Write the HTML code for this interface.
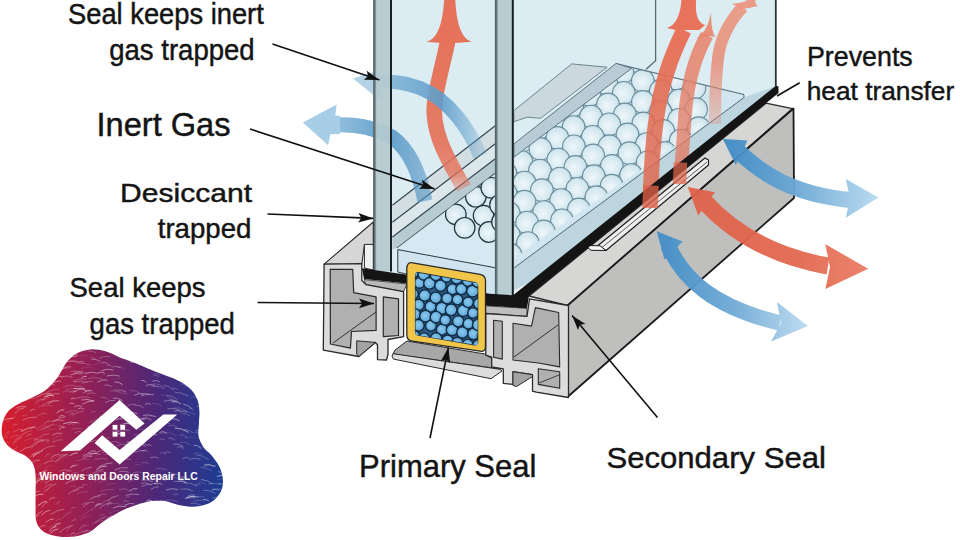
<!DOCTYPE html>
<html><head><meta charset="utf-8"><style>
html,body{margin:0;padding:0;background:#fff;}
svg{display:block;}
text{font-family:"Liberation Sans",sans-serif;}
</style></head><body>
<svg width="960" height="540" viewBox="0 0 960 540">
<rect width="960" height="540" fill="#ffffff"/>

<defs>
 <radialGradient id="ball" cx="0.45" cy="0.55" r="0.6">
  <stop offset="0" stop-color="#eef7fa"/><stop offset="0.75" stop-color="#d3e7ef"/><stop offset="1" stop-color="#bcd6e2"/>
 </radialGradient>
 <radialGradient id="sball" cx="0.45" cy="0.45" r="0.6">
  <stop offset="0" stop-color="#8ccaee"/><stop offset="1" stop-color="#58a2d6"/>
 </radialGradient>
 <linearGradient id="logoG" x1="0" y1="0" x2="1" y2="0">
  <stop offset="0" stop-color="#d81e2c"/><stop offset="0.4" stop-color="#8e2058"/><stop offset="0.7" stop-color="#4c2878"/><stop offset="1" stop-color="#1c3c94"/>
 </linearGradient>
 <clipPath id="trayclip"><polygon points="513.9,157 631.7,68 743.7,94.4 744,97.5 514.2,258"/></clipPath>
 <clipPath id="tray2clip"><polygon points="396.9,248.1 495.6,173 496,173 496,262 480,262"/></clipPath>
 <clipPath id="sealclip"><polygon points="415.5,272.5 477.7,283.2 477.7,345.3 415.5,334.7"/></clipPath>
</defs>
<polygon points="373.0,0.0 776.0,0.0 776.0,88.0 515.0,292.0 495.0,296.0 400.0,274.0 373.0,270.0" fill="#dbedf3" />
<polyline points="655.6,0 655.6,60.7 645.9,69.6" fill="none" stroke="#5d6b70" stroke-width="1.3"/>
<line x1="775.8" y1="0" x2="775.8" y2="88" stroke="#2a3236" stroke-width="1.8" />
<polygon points="513.9,157.0 631.7,68.0 743.7,94.4 744.0,97.5 514.2,267.8" fill="#d2e6ef" />
<g clip-path="url(#trayclip)"><circle cx="710.5" cy="57.1" r="11.3" fill="url(#ball)" stroke="#6a8d9b" stroke-width="1.1"/><circle cx="676.6" cy="59.1" r="11.3" fill="url(#ball)" stroke="#6a8d9b" stroke-width="1.1"/><circle cx="694.7" cy="68.3" r="11.3" fill="url(#ball)" stroke="#6a8d9b" stroke-width="1.1"/><circle cx="622.3" cy="50.9" r="11.3" fill="url(#ball)" stroke="#6a8d9b" stroke-width="1.1"/><circle cx="640.4" cy="62.1" r="11.3" fill="url(#ball)" stroke="#6a8d9b" stroke-width="1.1"/><circle cx="658.4" cy="69.6" r="11.3" fill="url(#ball)" stroke="#6a8d9b" stroke-width="1.1"/><circle cx="676.1" cy="78.3" r="11.3" fill="url(#ball)" stroke="#6a8d9b" stroke-width="1.1"/><circle cx="587.7" cy="55.0" r="11.3" fill="url(#ball)" stroke="#6a8d9b" stroke-width="1.1"/><circle cx="694.5" cy="87.8" r="11.3" fill="url(#ball)" stroke="#6a8d9b" stroke-width="1.1"/><circle cx="606.2" cy="63.7" r="11.3" fill="url(#ball)" stroke="#6a8d9b" stroke-width="1.1"/><circle cx="622.5" cy="72.4" r="11.3" fill="url(#ball)" stroke="#6a8d9b" stroke-width="1.1"/><circle cx="642.8" cy="80.9" r="11.3" fill="url(#ball)" stroke="#6a8d9b" stroke-width="1.1"/><circle cx="660.8" cy="90.9" r="11.3" fill="url(#ball)" stroke="#6a8d9b" stroke-width="1.1"/><circle cx="570.3" cy="66.8" r="11.3" fill="url(#ball)" stroke="#6a8d9b" stroke-width="1.1"/><circle cx="679.0" cy="100.5" r="11.3" fill="url(#ball)" stroke="#6a8d9b" stroke-width="1.1"/><circle cx="588.1" cy="74.7" r="11.3" fill="url(#ball)" stroke="#6a8d9b" stroke-width="1.1"/><circle cx="696.1" cy="109.2" r="11.3" fill="url(#ball)" stroke="#6a8d9b" stroke-width="1.1"/><circle cx="606.4" cy="83.5" r="11.3" fill="url(#ball)" stroke="#6a8d9b" stroke-width="1.1"/><circle cx="623.8" cy="92.8" r="11.3" fill="url(#ball)" stroke="#6a8d9b" stroke-width="1.1"/><circle cx="642.9" cy="101.9" r="11.3" fill="url(#ball)" stroke="#6a8d9b" stroke-width="1.1"/><circle cx="553.4" cy="76.1" r="11.3" fill="url(#ball)" stroke="#6a8d9b" stroke-width="1.1"/><circle cx="660.5" cy="112.0" r="11.3" fill="url(#ball)" stroke="#6a8d9b" stroke-width="1.1"/><circle cx="570.1" cy="85.4" r="11.3" fill="url(#ball)" stroke="#6a8d9b" stroke-width="1.1"/><circle cx="679.1" cy="119.8" r="11.3" fill="url(#ball)" stroke="#6a8d9b" stroke-width="1.1"/><circle cx="589.5" cy="94.9" r="11.3" fill="url(#ball)" stroke="#6a8d9b" stroke-width="1.1"/><circle cx="698.8" cy="128.2" r="11.3" fill="url(#ball)" stroke="#6a8d9b" stroke-width="1.1"/><circle cx="608.0" cy="104.4" r="11.3" fill="url(#ball)" stroke="#6a8d9b" stroke-width="1.1"/><circle cx="624.9" cy="114.4" r="11.3" fill="url(#ball)" stroke="#6a8d9b" stroke-width="1.1"/><circle cx="535.9" cy="87.9" r="11.3" fill="url(#ball)" stroke="#6a8d9b" stroke-width="1.1"/><circle cx="643.3" cy="123.4" r="11.3" fill="url(#ball)" stroke="#6a8d9b" stroke-width="1.1"/><circle cx="663.3" cy="130.9" r="11.3" fill="url(#ball)" stroke="#6a8d9b" stroke-width="1.1"/><circle cx="553.1" cy="98.7" r="11.3" fill="url(#ball)" stroke="#6a8d9b" stroke-width="1.1"/><circle cx="572.3" cy="105.7" r="11.3" fill="url(#ball)" stroke="#6a8d9b" stroke-width="1.1"/><circle cx="680.8" cy="140.5" r="11.3" fill="url(#ball)" stroke="#6a8d9b" stroke-width="1.1"/><circle cx="591.0" cy="116.5" r="11.3" fill="url(#ball)" stroke="#6a8d9b" stroke-width="1.1"/><circle cx="699.9" cy="149.2" r="11.3" fill="url(#ball)" stroke="#6a8d9b" stroke-width="1.1"/><circle cx="609.3" cy="124.3" r="11.3" fill="url(#ball)" stroke="#6a8d9b" stroke-width="1.1"/><circle cx="518.4" cy="99.7" r="11.3" fill="url(#ball)" stroke="#6a8d9b" stroke-width="1.1"/><circle cx="627.5" cy="134.4" r="11.3" fill="url(#ball)" stroke="#6a8d9b" stroke-width="1.1"/><circle cx="536.0" cy="108.2" r="11.3" fill="url(#ball)" stroke="#6a8d9b" stroke-width="1.1"/><circle cx="646.8" cy="144.0" r="11.3" fill="url(#ball)" stroke="#6a8d9b" stroke-width="1.1"/><circle cx="554.7" cy="118.9" r="11.3" fill="url(#ball)" stroke="#6a8d9b" stroke-width="1.1"/><circle cx="665.2" cy="153.1" r="11.3" fill="url(#ball)" stroke="#6a8d9b" stroke-width="1.1"/><circle cx="573.6" cy="127.0" r="11.3" fill="url(#ball)" stroke="#6a8d9b" stroke-width="1.1"/><circle cx="682.5" cy="161.4" r="11.3" fill="url(#ball)" stroke="#6a8d9b" stroke-width="1.1"/><circle cx="592.8" cy="136.8" r="11.3" fill="url(#ball)" stroke="#6a8d9b" stroke-width="1.1"/><circle cx="502.0" cy="110.3" r="11.3" fill="url(#ball)" stroke="#6a8d9b" stroke-width="1.1"/><circle cx="700.9" cy="170.1" r="11.3" fill="url(#ball)" stroke="#6a8d9b" stroke-width="1.1"/><circle cx="609.6" cy="146.2" r="11.3" fill="url(#ball)" stroke="#6a8d9b" stroke-width="1.1"/><circle cx="519.8" cy="119.5" r="11.3" fill="url(#ball)" stroke="#6a8d9b" stroke-width="1.1"/><circle cx="629.4" cy="153.2" r="11.3" fill="url(#ball)" stroke="#6a8d9b" stroke-width="1.1"/><circle cx="538.7" cy="128.1" r="11.3" fill="url(#ball)" stroke="#6a8d9b" stroke-width="1.1"/><circle cx="647.6" cy="162.3" r="11.3" fill="url(#ball)" stroke="#6a8d9b" stroke-width="1.1"/><circle cx="557.4" cy="137.9" r="11.3" fill="url(#ball)" stroke="#6a8d9b" stroke-width="1.1"/><circle cx="666.0" cy="172.5" r="11.3" fill="url(#ball)" stroke="#6a8d9b" stroke-width="1.1"/><circle cx="573.9" cy="146.3" r="11.3" fill="url(#ball)" stroke="#6a8d9b" stroke-width="1.1"/><circle cx="682.7" cy="181.9" r="11.3" fill="url(#ball)" stroke="#6a8d9b" stroke-width="1.1"/><circle cx="593.2" cy="155.4" r="11.3" fill="url(#ball)" stroke="#6a8d9b" stroke-width="1.1"/><circle cx="701.1" cy="189.6" r="11.3" fill="url(#ball)" stroke="#6a8d9b" stroke-width="1.1"/><circle cx="503.4" cy="130.5" r="11.3" fill="url(#ball)" stroke="#6a8d9b" stroke-width="1.1"/><circle cx="611.9" cy="165.9" r="11.3" fill="url(#ball)" stroke="#6a8d9b" stroke-width="1.1"/><circle cx="522.1" cy="140.7" r="11.3" fill="url(#ball)" stroke="#6a8d9b" stroke-width="1.1"/><circle cx="631.1" cy="175.0" r="11.3" fill="url(#ball)" stroke="#6a8d9b" stroke-width="1.1"/><circle cx="540.4" cy="148.9" r="11.3" fill="url(#ball)" stroke="#6a8d9b" stroke-width="1.1"/><circle cx="648.0" cy="184.8" r="11.3" fill="url(#ball)" stroke="#6a8d9b" stroke-width="1.1"/><circle cx="558.3" cy="159.6" r="11.3" fill="url(#ball)" stroke="#6a8d9b" stroke-width="1.1"/><circle cx="666.9" cy="192.7" r="11.3" fill="url(#ball)" stroke="#6a8d9b" stroke-width="1.1"/><circle cx="575.4" cy="166.9" r="11.3" fill="url(#ball)" stroke="#6a8d9b" stroke-width="1.1"/><circle cx="685.2" cy="200.9" r="11.3" fill="url(#ball)" stroke="#6a8d9b" stroke-width="1.1"/><circle cx="593.8" cy="176.2" r="11.3" fill="url(#ball)" stroke="#6a8d9b" stroke-width="1.1"/><circle cx="503.9" cy="150.9" r="11.3" fill="url(#ball)" stroke="#6a8d9b" stroke-width="1.1"/><circle cx="702.5" cy="212.0" r="11.3" fill="url(#ball)" stroke="#6a8d9b" stroke-width="1.1"/><circle cx="611.7" cy="185.7" r="11.3" fill="url(#ball)" stroke="#6a8d9b" stroke-width="1.1"/><circle cx="521.6" cy="162.0" r="11.3" fill="url(#ball)" stroke="#6a8d9b" stroke-width="1.1"/><circle cx="632.4" cy="195.3" r="11.3" fill="url(#ball)" stroke="#6a8d9b" stroke-width="1.1"/><circle cx="539.9" cy="170.5" r="11.3" fill="url(#ball)" stroke="#6a8d9b" stroke-width="1.1"/><circle cx="648.8" cy="204.9" r="11.3" fill="url(#ball)" stroke="#6a8d9b" stroke-width="1.1"/><circle cx="559.9" cy="178.6" r="11.3" fill="url(#ball)" stroke="#6a8d9b" stroke-width="1.1"/><circle cx="667.9" cy="212.8" r="11.3" fill="url(#ball)" stroke="#6a8d9b" stroke-width="1.1"/><circle cx="686.7" cy="221.5" r="11.3" fill="url(#ball)" stroke="#6a8d9b" stroke-width="1.1"/><circle cx="577.4" cy="188.8" r="11.3" fill="url(#ball)" stroke="#6a8d9b" stroke-width="1.1"/><circle cx="596.4" cy="197.2" r="11.3" fill="url(#ball)" stroke="#6a8d9b" stroke-width="1.1"/><circle cx="704.6" cy="231.2" r="11.3" fill="url(#ball)" stroke="#6a8d9b" stroke-width="1.1"/><circle cx="505.4" cy="173.1" r="11.3" fill="url(#ball)" stroke="#6a8d9b" stroke-width="1.1"/><circle cx="613.8" cy="206.5" r="11.3" fill="url(#ball)" stroke="#6a8d9b" stroke-width="1.1"/><circle cx="524.5" cy="182.5" r="11.3" fill="url(#ball)" stroke="#6a8d9b" stroke-width="1.1"/><circle cx="632.7" cy="215.6" r="11.3" fill="url(#ball)" stroke="#6a8d9b" stroke-width="1.1"/><circle cx="541.9" cy="190.2" r="11.3" fill="url(#ball)" stroke="#6a8d9b" stroke-width="1.1"/><circle cx="650.3" cy="223.6" r="11.3" fill="url(#ball)" stroke="#6a8d9b" stroke-width="1.1"/><circle cx="561.2" cy="200.0" r="11.3" fill="url(#ball)" stroke="#6a8d9b" stroke-width="1.1"/><circle cx="669.2" cy="234.2" r="11.3" fill="url(#ball)" stroke="#6a8d9b" stroke-width="1.1"/><circle cx="578.8" cy="209.4" r="11.3" fill="url(#ball)" stroke="#6a8d9b" stroke-width="1.1"/><circle cx="687.1" cy="242.7" r="11.3" fill="url(#ball)" stroke="#6a8d9b" stroke-width="1.1"/><circle cx="596.4" cy="217.8" r="11.3" fill="url(#ball)" stroke="#6a8d9b" stroke-width="1.1"/><circle cx="706.7" cy="253.0" r="11.3" fill="url(#ball)" stroke="#6a8d9b" stroke-width="1.1"/><circle cx="505.6" cy="192.8" r="11.3" fill="url(#ball)" stroke="#6a8d9b" stroke-width="1.1"/><circle cx="616.0" cy="226.0" r="11.3" fill="url(#ball)" stroke="#6a8d9b" stroke-width="1.1"/><circle cx="524.5" cy="201.7" r="11.3" fill="url(#ball)" stroke="#6a8d9b" stroke-width="1.1"/><circle cx="633.3" cy="237.1" r="11.3" fill="url(#ball)" stroke="#6a8d9b" stroke-width="1.1"/><circle cx="651.8" cy="244.0" r="11.3" fill="url(#ball)" stroke="#6a8d9b" stroke-width="1.1"/><circle cx="544.1" cy="212.1" r="11.3" fill="url(#ball)" stroke="#6a8d9b" stroke-width="1.1"/><circle cx="562.0" cy="220.3" r="11.3" fill="url(#ball)" stroke="#6a8d9b" stroke-width="1.1"/><circle cx="670.7" cy="253.4" r="11.3" fill="url(#ball)" stroke="#6a8d9b" stroke-width="1.1"/><circle cx="581.2" cy="228.4" r="11.3" fill="url(#ball)" stroke="#6a8d9b" stroke-width="1.1"/><circle cx="687.9" cy="262.3" r="11.3" fill="url(#ball)" stroke="#6a8d9b" stroke-width="1.1"/><circle cx="598.9" cy="239.2" r="11.3" fill="url(#ball)" stroke="#6a8d9b" stroke-width="1.1"/><circle cx="508.7" cy="213.0" r="11.3" fill="url(#ball)" stroke="#6a8d9b" stroke-width="1.1"/><circle cx="707.0" cy="272.5" r="11.3" fill="url(#ball)" stroke="#6a8d9b" stroke-width="1.1"/><circle cx="617.5" cy="247.2" r="11.3" fill="url(#ball)" stroke="#6a8d9b" stroke-width="1.1"/><circle cx="527.1" cy="222.6" r="11.3" fill="url(#ball)" stroke="#6a8d9b" stroke-width="1.1"/><circle cx="634.9" cy="255.6" r="11.3" fill="url(#ball)" stroke="#6a8d9b" stroke-width="1.1"/><circle cx="543.7" cy="231.4" r="11.3" fill="url(#ball)" stroke="#6a8d9b" stroke-width="1.1"/><circle cx="653.1" cy="266.2" r="11.3" fill="url(#ball)" stroke="#6a8d9b" stroke-width="1.1"/><circle cx="671.2" cy="273.6" r="11.3" fill="url(#ball)" stroke="#6a8d9b" stroke-width="1.1"/><circle cx="562.3" cy="241.0" r="11.3" fill="url(#ball)" stroke="#6a8d9b" stroke-width="1.1"/><circle cx="581.8" cy="250.7" r="11.3" fill="url(#ball)" stroke="#6a8d9b" stroke-width="1.1"/><circle cx="600.0" cy="257.7" r="11.3" fill="url(#ball)" stroke="#6a8d9b" stroke-width="1.1"/><circle cx="508.8" cy="234.8" r="11.3" fill="url(#ball)" stroke="#6a8d9b" stroke-width="1.1"/><circle cx="618.6" cy="268.6" r="11.3" fill="url(#ball)" stroke="#6a8d9b" stroke-width="1.1"/><circle cx="527.9" cy="243.0" r="11.3" fill="url(#ball)" stroke="#6a8d9b" stroke-width="1.1"/><circle cx="635.4" cy="276.3" r="11.3" fill="url(#ball)" stroke="#6a8d9b" stroke-width="1.1"/><circle cx="545.4" cy="252.0" r="11.3" fill="url(#ball)" stroke="#6a8d9b" stroke-width="1.1"/><circle cx="564.4" cy="260.3" r="11.3" fill="url(#ball)" stroke="#6a8d9b" stroke-width="1.1"/><circle cx="581.6" cy="269.5" r="11.3" fill="url(#ball)" stroke="#6a8d9b" stroke-width="1.1"/><circle cx="601.1" cy="279.1" r="11.3" fill="url(#ball)" stroke="#6a8d9b" stroke-width="1.1"/><circle cx="510.6" cy="255.0" r="11.3" fill="url(#ball)" stroke="#6a8d9b" stroke-width="1.1"/><circle cx="528.4" cy="263.9" r="11.3" fill="url(#ball)" stroke="#6a8d9b" stroke-width="1.1"/><circle cx="548.4" cy="273.5" r="11.3" fill="url(#ball)" stroke="#6a8d9b" stroke-width="1.1"/><circle cx="513.0" cy="275.9" r="11.3" fill="url(#ball)" stroke="#6a8d9b" stroke-width="1.1"/></g>
<polyline points="616,63.6 743.7,94.4 745.5,106" fill="none" stroke="#5b7783" stroke-width="1.1"/>
<polygon points="513.9,110.6 571.7,63.9 607.2,67.2 540.6,118.3 527.2,117.2 513.9,121.7" fill="#cbd9de" stroke="#6d8590" stroke-width="1" stroke-linejoin="round" />
<polygon points="513.9,143.9 616.1,63.4 631.7,68.3 513.9,157.2" fill="#b7ccd4" stroke="#5d7682" stroke-width="1" stroke-linejoin="round" />
<polygon points="514.2,267.8 744.0,97.5 776.0,86.0 776.0,94.0 531.5,282.0 513.5,290.0" fill="#bcd5de" />
<line x1="514.2" y1="267.8" x2="744" y2="97.5" stroke="#4c6b78" stroke-width="1" />
<polygon points="392.4,205.2 495.6,125.5 495.6,173.0 396.9,248.1 392.4,250.0" fill="#d3dee2" />
<polygon points="392.4,222.2 495.6,143.5 495.6,158.5 392.4,237.0" fill="#dce7eb" />
<polygon points="392.4,237.0 495.6,158.5 495.6,173.0 396.9,248.1 392.4,249.0" fill="#b7cbd3" />
<line x1="392.4" y1="205.2" x2="495.6" y2="125.5" stroke="#33444c" stroke-width="1.1" />
<line x1="392.4" y1="222.2" x2="495.6" y2="143.5" stroke="#33444c" stroke-width="1.1" />
<line x1="392.4" y1="237" x2="495.6" y2="158.5" stroke="#33444c" stroke-width="1.1" />
<line x1="396.9" y1="248.1" x2="495.6" y2="173" stroke="#33444c" stroke-width="1.1" />
<polygon points="396.9,248.6 495.6,173.5 495.6,266.0 397.8,249.6" fill="#d5e9f3" />
<g clip-path="url(#tray2clip)"><circle cx="455.8" cy="214.4" r="10.3" fill="url(#ball)" stroke="#23343c" stroke-width="1.2"/><circle cx="464.7" cy="227.8" r="10.3" fill="url(#ball)" stroke="#23343c" stroke-width="1.2"/><circle cx="475.8" cy="196.7" r="10.3" fill="url(#ball)" stroke="#23343c" stroke-width="1.2"/><circle cx="483.6" cy="215.6" r="10.3" fill="url(#ball)" stroke="#23343c" stroke-width="1.2"/><circle cx="489" cy="232" r="10.3" fill="url(#ball)" stroke="#23343c" stroke-width="1.2"/><circle cx="491.3" cy="187.8" r="10.3" fill="url(#ball)" stroke="#23343c" stroke-width="1.2"/><circle cx="500" cy="205" r="10.3" fill="url(#ball)" stroke="#23343c" stroke-width="1.2"/><circle cx="502" cy="222" r="10.3" fill="url(#ball)" stroke="#23343c" stroke-width="1.2"/></g>
<polygon points="397.8,249.6 495.6,267.8 495.6,296.0 397.8,272.0" fill="#cfe4ef" stroke="#2a3a40" stroke-width="1" stroke-linejoin="round" />
<defs><linearGradient id="r1g" gradientUnits="userSpaceOnUse" x1="0" y1="190" x2="0" y2="40"><stop offset="0" stop-color="#e5735a" stop-opacity="0.35"/><stop offset="0.12" stop-color="#e5735a" stop-opacity="0.8"/><stop offset="0.3" stop-color="#e5735a" stop-opacity="0.92"/><stop offset="1" stop-color="#e5735a" stop-opacity="1"/></linearGradient><linearGradient id="r2g" gradientUnits="userSpaceOnUse" x1="0" y1="212" x2="0" y2="20"><stop offset="0" stop-color="#e0644a" stop-opacity="0.5"/><stop offset="0.12" stop-color="#e0644a" stop-opacity="0.8"/><stop offset="0.4" stop-color="#e26a50" stop-opacity="0.85"/><stop offset="1" stop-color="#e8735a" stop-opacity="1"/></linearGradient><linearGradient id="r3g" gradientUnits="userSpaceOnUse" x1="0" y1="198" x2="0" y2="20"><stop offset="0" stop-color="#e2694f" stop-opacity="0.5"/><stop offset="0.15" stop-color="#e4735a" stop-opacity="0.75"/><stop offset="0.4" stop-color="#e57a62" stop-opacity="0.75"/><stop offset="1" stop-color="#e8866e" stop-opacity="0.9"/></linearGradient><linearGradient id="r4g" gradientUnits="userSpaceOnUse" x1="0" y1="125" x2="0" y2="0"><stop offset="0" stop-color="#e8866e" stop-opacity="0.3"/><stop offset="0.5" stop-color="#e8866e" stop-opacity="0.8"/><stop offset="1" stop-color="#eb9580" stop-opacity="0.9"/></linearGradient></defs>
<path d="M464,188 C448,160 430,130 435,100 C438,80 444,60 448,40" fill="none" stroke="url(#r1g)" stroke-width="15.5" stroke-opacity="1.0" stroke-linecap="butt" />
<path d="M426.7,41.7 Q442,38 444.2,-1 L455.2,-1 Q457,38 471.7,41.7 L458.9,42.8 L437.8,42.8 Z" fill="#e5735a"/>
<path d="M715,124 C715,100 716,70 719,52 C722,35 732,18 743,7" fill="none" stroke="url(#r4g)" stroke-width="12" stroke-opacity="1.0" stroke-linecap="butt" />
<path d="M731.9,3.7 Q745,3 748,-1 L756,-1 Q754,4 757.8,5.9 L749,8 L741,9 Z" fill="#eb9580" opacity="0.92"/>
<path d="M679.5,186 C682,160 684,130 685,115 C687,90 693,60 707,35" fill="none" stroke="url(#r3g)" stroke-width="13.5" stroke-opacity="1.0" stroke-linecap="butt" />
<path d="M696.3,38.5 Q707,33 711.1,12.6 Q711,32 715.6,37 L710,36 L703,37 Z" fill="#e8866e" opacity="0.92"/>
<path d="M650,212 C651,170 653,140 656.5,118 C660,92 668,62 684,30" fill="none" stroke="url(#r2g)" stroke-width="15.5" stroke-opacity="1.0" stroke-linecap="butt" />
<path d="M666.7,28.1 Q680,24 681.5,-1 L696.3,-1 Q694,22 705.2,25.2 L699,30 L675.6,30 Z" fill="#e8735a"/>
<defs><linearGradient id="b1g" gradientUnits="userSpaceOnUse" x1="480" y1="0" x2="350" y2="0"><stop offset="0" stop-color="#5d9cc9" stop-opacity="0.3"/><stop offset="0.3" stop-color="#5d9cc9" stop-opacity="0.9"/><stop offset="1" stop-color="#9cc6e2" stop-opacity="0.9"/></linearGradient><linearGradient id="b2g" gradientUnits="userSpaceOnUse" x1="435" y1="0" x2="300" y2="0"><stop offset="0" stop-color="#4f92c4" stop-opacity="0.5"/><stop offset="0.35" stop-color="#5d9cc9" stop-opacity="0.95"/><stop offset="1" stop-color="#a8cde6" stop-opacity="0.9"/></linearGradient></defs>
<path d="M480,156 C470,130 450,100 420,88 C405,83 395,81 380,82" fill="none" stroke="url(#b1g)" stroke-width="14" stroke-opacity="1.0" stroke-linecap="butt" />
<path d="M353,78.5 L381,69.5 L381,101 Q366,89 353,78.5 Z" fill="#a6cae2" fill-opacity="0.85"/>
<path d="M425,201 C420,175 410,150 392,137 C372,126 350,124 333,125" fill="none" stroke="url(#b2g)" stroke-width="15" stroke-opacity="1.0" stroke-linecap="butt" />
<polygon points="302.9,122.5 336.7,104.4 335.2,115.4 340.0,116.0 340.0,134.0 330.4,134.3 328.1,145.3" fill="#a8cde6" />
<defs><linearGradient id="paneEdge" x1="0" y1="0" x2="1" y2="0"><stop offset="0" stop-color="#4a585d"/><stop offset="0.5" stop-color="#66767b"/><stop offset="1" stop-color="#a7bbc1"/></linearGradient></defs>
<rect x="373.2" y="-2" width="18.80000000000001" height="273.5" fill="#b4cacf" fill-opacity="0.93"/><rect x="373.2" y="-2" width="3.2" height="273.5" fill="url(#paneEdge)"/><line x1="391" y1="-2" x2="391" y2="271.5" stroke="#182226" stroke-width="2" />
<rect x="494.9" y="-2" width="18.899999999999977" height="298.7" fill="#b4cacf" fill-opacity="0.93"/><rect x="494.9" y="-2" width="3.2" height="298.7" fill="url(#paneEdge)"/><line x1="512.8" y1="-2" x2="512.8" y2="296.7" stroke="#182226" stroke-width="2" />
<polygon points="324.1,264.2 373.3,222.0 373.3,245.0 364.4,245.0 361.8,264.2" fill="#d6d6d6" stroke="#2a2a2a" stroke-width="1.1" stroke-linejoin="round" />
<polygon points="364.4,244.4 373.3,244.4 373.3,270.0 364.4,268.0" fill="#eef1f1" stroke="#2a2a2a" stroke-width="1" stroke-linejoin="round" />
<polygon points="529.0,296.0 766.0,103.2 792.5,108.6 567.5,305.5" fill="#d6d6d5" stroke="#2a2a2a" stroke-width="1.3" stroke-linejoin="round" />
<polygon points="567.5,305.5 793.5,108.5 794.0,198.0 567.5,397.0" fill="#bfbfbd" stroke="#1a1a1a" stroke-width="1.8" stroke-linejoin="round" />
<polygon points="598.0,245.5 705.0,158.0 708.5,160.0 708.5,165.0 606.0,250.5" fill="#efefef" stroke="#1a1a1a" stroke-width="1.1" stroke-linejoin="round" />
<line x1="601" y1="248.3" x2="707" y2="162" stroke="#333" stroke-width="0.8" />
<polygon points="586.0,245.5 600.0,245.8 606.0,250.5 591.0,250.3" fill="#f6f6f6" stroke="#1a1a1a" stroke-width="1" stroke-linejoin="round" />
<polygon points="362.0,268.3 407.0,274.8 407.0,283.5 364.0,279.0" fill="#141414" />
<polygon points="485.6,293.5 513.0,295.3 776.0,85.7 778.5,86.5 778.5,93.0 529.0,295.8 527.0,308.4 485.6,305.8" fill="#141414" />
<polygon points="364.0,279.5 407.0,284.0 403.6,291.7 365.9,284.6" fill="#b8b8b8" stroke="#2a2a2a" stroke-width="0.8" stroke-linejoin="round" />
<polygon points="485.6,305.8 527.0,308.4 527.0,316.4 485.8,313.5" fill="#bdbdbd" stroke="#2a2a2a" stroke-width="0.8" stroke-linejoin="round" />
<path d="M650,208 L651,185.5" fill="none" stroke="#df6048" stroke-width="15.5" stroke-opacity="0.78"/>
<path d="M679.5,184 L680.5,162.5" fill="none" stroke="#e0664c" stroke-width="13.5" stroke-opacity="0.72"/>
<polygon points="395.0,350.0 407.0,341.0 485.0,354.0 494.0,360.0 500.0,369.0 393.0,354.0" fill="#a7a7a7" stroke="#2a2a2a" stroke-width="1" stroke-linejoin="round" />
<polygon points="393.0,353.7 500.0,369.3 502.0,371.0 491.0,378.7 393.5,359.1 392.0,356.0" fill="#dcdcdc" stroke="#2a2a2a" stroke-width="1" stroke-linejoin="round" />
<polygon points="324.1,264.2 361.8,263.6 361.8,280.5 365.9,284.6 403.6,291.7 403.6,336.6 388.0,339.5 388.0,354.5 386.5,360.0 377.5,359.6 377.5,345.0 375.4,342.4 358.8,356.5 323.3,350.2" fill="#dcdcdc" stroke="#2a2a2a" stroke-width="1.3" stroke-linejoin="round" />
<polygon points="330.2,269.3 352.7,269.3 353.7,292.7 376.1,296.8 376.1,330.4 351.5,331.5 350.4,348.1 330.4,344.0" fill="#b0b0b0" stroke="#2a2a2a" stroke-width="1.2" stroke-linejoin="round" />
<line x1="333" y1="343" x2="376" y2="312" stroke="#333" stroke-width="1" />
<polygon points="383.3,296.8 398.5,298.8 398.5,335.5 383.3,336.6" fill="#b0b0b0" stroke="#2a2a2a" stroke-width="1.2" stroke-linejoin="round" />
<polygon points="356.7,340.8 375.4,342.4 358.8,356.5 356.7,354.0" fill="#a2a2a2" stroke="#2a2a2a" stroke-width="1" stroke-linejoin="round" />
<polygon points="485.8,313.5 527.0,316.4 529.5,298.9 568.5,305.5 568.5,397.5 536.3,392.1 532.5,391.2 532.5,374.7 513.0,371.7 513.0,384.4 503.3,383.4 503.3,368.8 491.7,366.9 491.7,357.2 485.8,355.2" fill="#dcdcdc" stroke="#2a2a2a" stroke-width="1.3" stroke-linejoin="round" />
<polygon points="513.0,371.7 532.5,374.7 532.5,376.5 516.5,386.5 513.0,385.5" fill="#a4a4a4" stroke="#2a2a2a" stroke-width="1" stroke-linejoin="round" />
<polygon points="493.6,320.3 502.3,321.2 502.3,359.1 493.6,357.2" fill="#b0b0b0" stroke="#2a2a2a" stroke-width="1.1" stroke-linejoin="round" />
<polygon points="513.0,323.2 531.5,326.1 535.4,307.6 558.7,312.5 559.7,366.9 538.3,363.0 513.0,360.0" fill="#b0b0b0" stroke="#2a2a2a" stroke-width="1.1" stroke-linejoin="round" />
<line x1="514" y1="357" x2="558" y2="325" stroke="#333" stroke-width="1" />
<polygon points="538.3,368.8 559.7,371.7 559.7,388.3 538.3,384.4" fill="#b0b0b0" stroke="#2a2a2a" stroke-width="1.1" stroke-linejoin="round" />
<line x1="539" y1="383" x2="559" y2="375" stroke="#333" stroke-width="0.9" />
<path d="M412.5,262.8 L480,274.4 Q485.5,275.4 485.5,281 L485.5,346.5 Q485.5,352.1 480,351.2 L412.5,341.2 Q406.8,340.5 406.8,334.8 L406.8,268.6 Q406.8,262 412.5,262.8 Z" fill="#f0c64a" stroke="#2a2a2a" stroke-width="1.3"/>
<path d="M418.5,272.5 L474.7,282.6 Q477.7,283.2 477.7,286.5 L477.7,342 Q477.7,345.3 474.7,344.8 L418.5,335.2 Q415.5,334.7 415.5,331.5 L415.5,275.7 Q415.5,272 418.5,272.5 Z" fill="#2b5a82" stroke="#1e2e3a" stroke-width="1.2"/>
<g clip-path="url(#sealclip)"><circle cx="413.4" cy="272.1" r="5.5" fill="url(#sball)" stroke="#132c44" stroke-width="1.4"/><circle cx="419.4" cy="282.9" r="5.3" fill="url(#sball)" stroke="#132c44" stroke-width="1.4"/><circle cx="412.8" cy="294.0" r="5.5" fill="url(#sball)" stroke="#132c44" stroke-width="1.4"/><circle cx="418.6" cy="305.0" r="5.6" fill="url(#sball)" stroke="#132c44" stroke-width="1.4"/><circle cx="414.8" cy="314.3" r="5.7" fill="url(#sball)" stroke="#132c44" stroke-width="1.4"/><circle cx="418.4" cy="325.3" r="5.8" fill="url(#sball)" stroke="#132c44" stroke-width="1.4"/><circle cx="414.1" cy="336.2" r="5.7" fill="url(#sball)" stroke="#132c44" stroke-width="1.4"/><circle cx="423.8" cy="274.4" r="5.7" fill="url(#sball)" stroke="#132c44" stroke-width="1.4"/><circle cx="429.5" cy="283.3" r="5.8" fill="url(#sball)" stroke="#132c44" stroke-width="1.4"/><circle cx="424.7" cy="295.5" r="5.8" fill="url(#sball)" stroke="#132c44" stroke-width="1.4"/><circle cx="430.5" cy="306.6" r="5.5" fill="url(#sball)" stroke="#132c44" stroke-width="1.4"/><circle cx="425.5" cy="316.1" r="5.9" fill="url(#sball)" stroke="#132c44" stroke-width="1.4"/><circle cx="430.9" cy="325.8" r="5.4" fill="url(#sball)" stroke="#132c44" stroke-width="1.4"/><circle cx="424.1" cy="338.5" r="5.6" fill="url(#sball)" stroke="#132c44" stroke-width="1.4"/><circle cx="435.9" cy="275.1" r="5.6" fill="url(#sball)" stroke="#132c44" stroke-width="1.4"/><circle cx="440.5" cy="285.8" r="5.7" fill="url(#sball)" stroke="#132c44" stroke-width="1.4"/><circle cx="435.8" cy="297.8" r="5.7" fill="url(#sball)" stroke="#132c44" stroke-width="1.4"/><circle cx="441.8" cy="308.3" r="5.9" fill="url(#sball)" stroke="#132c44" stroke-width="1.4"/><circle cx="436.0" cy="317.2" r="5.8" fill="url(#sball)" stroke="#132c44" stroke-width="1.4"/><circle cx="441.9" cy="329.6" r="5.6" fill="url(#sball)" stroke="#132c44" stroke-width="1.4"/><circle cx="436.1" cy="338.5" r="5.8" fill="url(#sball)" stroke="#132c44" stroke-width="1.4"/><circle cx="446.6" cy="276.9" r="5.3" fill="url(#sball)" stroke="#132c44" stroke-width="1.4"/><circle cx="452.4" cy="289.2" r="5.4" fill="url(#sball)" stroke="#132c44" stroke-width="1.4"/><circle cx="447.1" cy="298.4" r="5.4" fill="url(#sball)" stroke="#132c44" stroke-width="1.4"/><circle cx="451.1" cy="309.8" r="5.8" fill="url(#sball)" stroke="#132c44" stroke-width="1.4"/><circle cx="445.3" cy="320.1" r="5.3" fill="url(#sball)" stroke="#132c44" stroke-width="1.4"/><circle cx="452.1" cy="330.0" r="5.8" fill="url(#sball)" stroke="#132c44" stroke-width="1.4"/><circle cx="447.6" cy="341.0" r="5.9" fill="url(#sball)" stroke="#132c44" stroke-width="1.4"/><circle cx="456.7" cy="278.2" r="5.7" fill="url(#sball)" stroke="#132c44" stroke-width="1.4"/><circle cx="461.3" cy="289.1" r="5.5" fill="url(#sball)" stroke="#132c44" stroke-width="1.4"/><circle cx="457.5" cy="299.6" r="5.3" fill="url(#sball)" stroke="#132c44" stroke-width="1.4"/><circle cx="463.3" cy="310.6" r="5.9" fill="url(#sball)" stroke="#132c44" stroke-width="1.4"/><circle cx="458.2" cy="321.3" r="5.6" fill="url(#sball)" stroke="#132c44" stroke-width="1.4"/><circle cx="462.4" cy="332.5" r="5.7" fill="url(#sball)" stroke="#132c44" stroke-width="1.4"/><circle cx="457.3" cy="343.1" r="5.9" fill="url(#sball)" stroke="#132c44" stroke-width="1.4"/><circle cx="468.0" cy="280.8" r="5.7" fill="url(#sball)" stroke="#132c44" stroke-width="1.4"/><circle cx="472.6" cy="291.1" r="5.9" fill="url(#sball)" stroke="#132c44" stroke-width="1.4"/><circle cx="468.1" cy="302.3" r="5.3" fill="url(#sball)" stroke="#132c44" stroke-width="1.4"/><circle cx="473.0" cy="313.0" r="5.3" fill="url(#sball)" stroke="#132c44" stroke-width="1.4"/><circle cx="468.3" cy="323.7" r="5.3" fill="url(#sball)" stroke="#132c44" stroke-width="1.4"/><circle cx="473.5" cy="333.9" r="5.7" fill="url(#sball)" stroke="#132c44" stroke-width="1.4"/><circle cx="467.6" cy="345.1" r="5.7" fill="url(#sball)" stroke="#132c44" stroke-width="1.4"/><circle cx="477.7" cy="281.7" r="5.7" fill="url(#sball)" stroke="#132c44" stroke-width="1.4"/><circle cx="485.1" cy="292.8" r="5.6" fill="url(#sball)" stroke="#132c44" stroke-width="1.4"/><circle cx="479.0" cy="303.6" r="5.5" fill="url(#sball)" stroke="#132c44" stroke-width="1.4"/><circle cx="483.6" cy="314.3" r="5.7" fill="url(#sball)" stroke="#132c44" stroke-width="1.4"/><circle cx="478.3" cy="324.9" r="5.8" fill="url(#sball)" stroke="#132c44" stroke-width="1.4"/><circle cx="482.9" cy="336.0" r="5.7" fill="url(#sball)" stroke="#132c44" stroke-width="1.4"/><circle cx="478.3" cy="345.7" r="5.8" fill="url(#sball)" stroke="#132c44" stroke-width="1.4"/></g>
<defs><linearGradient id="bug" gradientUnits="userSpaceOnUse" x1="725" y1="0" x2="880" y2="0"><stop offset="0" stop-color="#3f8cc6"/><stop offset="0.45" stop-color="#6aa7d4"/><stop offset="1" stop-color="#b9dbf0"/></linearGradient><linearGradient id="rmg" gradientUnits="userSpaceOnUse" x1="688" y1="0" x2="870" y2="0"><stop offset="0" stop-color="#e0624a"/><stop offset="0.6" stop-color="#e3684f"/><stop offset="1" stop-color="#ea7d66"/></linearGradient><linearGradient id="blg" gradientUnits="userSpaceOnUse" x1="655" y1="0" x2="810" y2="0"><stop offset="0" stop-color="#3f8cc6"/><stop offset="0.5" stop-color="#6ea9d5"/><stop offset="1" stop-color="#bedcf0"/></linearGradient></defs>
<g opacity="0.95">
<path d="M738,151 C760,172 790,194 850,200" fill="none" stroke="url(#bug)" stroke-width="16" stroke-opacity="1.0" stroke-linecap="butt" />
<polygon points="722.8,139.1 747.5,140.4 735.8,165.0" fill="url(#bug)" />
<polygon points="878.4,197.4 845.8,179.0 850.0,198.5 845.8,217.8" fill="url(#bug)" />
<path d="M703,200 C730,230 770,256 828,266" fill="none" stroke="url(#rmg)" stroke-width="17" stroke-opacity="1.0" stroke-linecap="butt" />
<polygon points="687.8,187.1 715.0,192.3 698.2,215.6" fill="url(#rmg)" />
<polygon points="868.2,268.7 825.4,244.3 830.0,267.0 825.4,289.0" fill="url(#rmg)" />
<path d="M668,245 C683,279 713,307 780,323" fill="none" stroke="url(#blg)" stroke-width="15.5" stroke-opacity="1.0" stroke-linecap="butt" />
<polygon points="656.7,231.2 682.6,241.6 664.5,259.7" fill="url(#blg)" />
<polygon points="808.0,326.0 777.0,302.0 781.0,323.0 771.0,341.5" fill="url(#blg)" />
</g>
<line x1="272.5" y1="44" x2="379.5" y2="80" stroke="#111" stroke-width="1.6" /><polygon points="379.5,80.0 363.8,79.8 368.1,76.2 366.8,70.7" fill="#111" />
<line x1="250" y1="129" x2="434.7" y2="188.9" stroke="#111" stroke-width="1.6" /><polygon points="434.7,188.9 419.0,188.8 423.3,185.2 421.9,179.7" fill="#111" />
<line x1="267.5" y1="214" x2="373.3" y2="218.4" stroke="#111" stroke-width="1.6" /><polygon points="373.3,218.4 358.1,222.6 361.3,217.9 358.5,213.0" fill="#111" />
<line x1="257.5" y1="302.5" x2="374" y2="303.5" stroke="#111" stroke-width="1.6" /><polygon points="374.0,303.5 359.0,308.2 362.0,303.4 359.0,298.6" fill="#111" />
<line x1="430" y1="438" x2="448.4" y2="347.6" stroke="#111" stroke-width="1.6" /><polygon points="448.4,347.6 450.1,363.3 446.0,359.4 440.7,361.3" fill="#111" />
<line x1="657.5" y1="417.5" x2="572.1" y2="315.5" stroke="#111" stroke-width="1.6" /><polygon points="572.1,315.5 585.4,323.9 579.8,324.7 578.0,330.1" fill="#111" />
<line x1="799.7" y1="82.8" x2="777" y2="96" stroke="#111" stroke-width="1.6" />
<text x="68.04" y="23.75" font-size="28.84" textLength="195.76" lengthAdjust="spacingAndGlyphs" fill="#141414" stroke="#141414" stroke-width="0.45">Seal keeps inert</text>
<text x="109.2" y="59.7" font-size="29.32" textLength="145.51" lengthAdjust="spacingAndGlyphs" fill="#141414" stroke="#141414" stroke-width="0.45">gas trapped</text>
<text x="96.47" y="135.5" font-size="33.43" textLength="134.1" lengthAdjust="spacingAndGlyphs" fill="#141414" stroke="#141414" stroke-width="0.45">Inert Gas</text>
<text x="120.1" y="201.7" font-size="26.3" textLength="131.92" lengthAdjust="spacingAndGlyphs" fill="#141414" stroke="#141414" stroke-width="0.45">Desiccant</text>
<text x="157.75" y="238.3" font-size="27.4" textLength="93.66" lengthAdjust="spacingAndGlyphs" fill="#141414" stroke="#141414" stroke-width="0.45">trapped</text>
<text x="69.53" y="297.1" font-size="27.53" textLength="136.01" lengthAdjust="spacingAndGlyphs" fill="#141414" stroke="#141414" stroke-width="0.45">Seal keeps</text>
<text x="89.6" y="333.7" font-size="29.04" textLength="145.3" lengthAdjust="spacingAndGlyphs" fill="#141414" stroke="#141414" stroke-width="0.45">gas trapped</text>
<text x="806.95" y="65.5" font-size="28.26" textLength="105.82" lengthAdjust="spacingAndGlyphs" fill="#141414" stroke="#141414" stroke-width="0.45">Prevents</text>
<text x="806.76" y="99.6" font-size="26.58" textLength="147.42" lengthAdjust="spacingAndGlyphs" fill="#141414" stroke="#141414" stroke-width="0.45">heat transfer</text>
<text x="359.02" y="476.5" font-size="31.51" textLength="177.35" lengthAdjust="spacingAndGlyphs" fill="#141414" stroke="#141414" stroke-width="0.45">Primary Seal</text>
<text x="606.45" y="468.25" font-size="29.79" textLength="219.49" lengthAdjust="spacingAndGlyphs" fill="#141414" stroke="#141414" stroke-width="0.45">Secondary Seal</text>
<defs><clipPath id="blobclip"><path d="M68.1,360.6 C70.7,357.8 73.8,355.0 77.5,353.1 C81.2,351.2 85.9,349.7 90.6,349.4 C95.3,349.1 100.9,350.1 105.6,351.3 C110.3,352.6 114.1,355.0 118.8,356.9 C123.5,358.8 129.4,360.8 133.8,362.5 C138.2,364.2 141.2,365.6 145.0,367.2 C148.8,368.8 151.9,370.2 156.3,371.9 C160.7,373.6 166.9,375.6 171.3,377.5 C175.7,379.4 179.1,380.9 182.5,383.1 C185.9,385.3 189.4,387.8 191.9,390.6 C194.4,393.4 196.2,396.6 197.5,400.0 C198.8,403.4 199.2,407.6 199.4,411.3 C199.7,415.0 199.1,417.8 199.0,422.0 C198.9,426.2 197.8,432.1 198.6,436.3 C199.4,440.5 201.6,444.3 203.7,447.4 C205.8,450.5 208.4,451.7 211.0,454.8 C213.6,457.9 217.1,462.3 219.0,466.0 C220.9,469.7 222.1,473.3 222.6,477.0 C223.1,480.7 223.2,484.7 222.2,488.1 C221.2,491.5 219.2,494.8 216.7,497.4 C214.2,500.0 211.4,502.3 207.4,503.9 C203.4,505.4 197.5,506.5 192.6,506.7 C187.7,506.9 182.4,505.7 177.8,504.8 C173.2,503.9 169.1,501.7 164.8,501.1 C160.5,500.5 156.5,500.5 151.9,501.1 C147.3,501.7 141.9,503.2 137.0,504.8 C132.1,506.4 126.8,508.2 122.2,510.4 C117.6,512.6 113.0,515.5 109.3,517.8 C105.6,520.1 103.4,521.5 100.0,524.0 C96.6,526.5 93.8,530.3 88.8,532.5 C83.8,534.7 76.3,536.6 70.0,537.0 C63.7,537.4 55.9,536.3 51.0,535.0 C46.1,533.7 43.0,531.5 40.5,529.0 C38.0,526.5 36.8,523.7 36.0,520.0 C35.2,516.3 35.7,511.8 35.6,507.0 C35.5,502.2 35.6,496.2 35.6,491.0 C35.6,485.8 36.0,480.0 35.6,475.6 C35.2,471.2 34.8,467.5 33.3,464.4 C31.8,461.2 29.6,458.9 26.7,456.7 C23.8,454.5 18.9,453.2 15.6,451.1 C12.3,449.1 8.9,447.0 6.7,444.4 C4.5,441.8 3.0,438.9 2.2,435.6 C1.5,432.3 1.5,428.1 2.2,424.4 C3.0,420.7 4.5,416.4 6.7,413.3 C8.9,410.2 11.9,408.0 15.6,405.6 C19.3,403.2 24.1,401.4 28.9,399.0 C33.7,396.6 39.9,394.2 44.4,391.0 C48.9,387.8 52.7,383.5 55.6,380.0 C58.5,376.5 59.9,373.2 62.0,370.0 C64.1,366.8 65.5,363.4 68.1,360.6Z"/></clipPath></defs>
<path d="M68.1,360.6 C70.7,357.8 73.8,355.0 77.5,353.1 C81.2,351.2 85.9,349.7 90.6,349.4 C95.3,349.1 100.9,350.1 105.6,351.3 C110.3,352.6 114.1,355.0 118.8,356.9 C123.5,358.8 129.4,360.8 133.8,362.5 C138.2,364.2 141.2,365.6 145.0,367.2 C148.8,368.8 151.9,370.2 156.3,371.9 C160.7,373.6 166.9,375.6 171.3,377.5 C175.7,379.4 179.1,380.9 182.5,383.1 C185.9,385.3 189.4,387.8 191.9,390.6 C194.4,393.4 196.2,396.6 197.5,400.0 C198.8,403.4 199.2,407.6 199.4,411.3 C199.7,415.0 199.1,417.8 199.0,422.0 C198.9,426.2 197.8,432.1 198.6,436.3 C199.4,440.5 201.6,444.3 203.7,447.4 C205.8,450.5 208.4,451.7 211.0,454.8 C213.6,457.9 217.1,462.3 219.0,466.0 C220.9,469.7 222.1,473.3 222.6,477.0 C223.1,480.7 223.2,484.7 222.2,488.1 C221.2,491.5 219.2,494.8 216.7,497.4 C214.2,500.0 211.4,502.3 207.4,503.9 C203.4,505.4 197.5,506.5 192.6,506.7 C187.7,506.9 182.4,505.7 177.8,504.8 C173.2,503.9 169.1,501.7 164.8,501.1 C160.5,500.5 156.5,500.5 151.9,501.1 C147.3,501.7 141.9,503.2 137.0,504.8 C132.1,506.4 126.8,508.2 122.2,510.4 C117.6,512.6 113.0,515.5 109.3,517.8 C105.6,520.1 103.4,521.5 100.0,524.0 C96.6,526.5 93.8,530.3 88.8,532.5 C83.8,534.7 76.3,536.6 70.0,537.0 C63.7,537.4 55.9,536.3 51.0,535.0 C46.1,533.7 43.0,531.5 40.5,529.0 C38.0,526.5 36.8,523.7 36.0,520.0 C35.2,516.3 35.7,511.8 35.6,507.0 C35.5,502.2 35.6,496.2 35.6,491.0 C35.6,485.8 36.0,480.0 35.6,475.6 C35.2,471.2 34.8,467.5 33.3,464.4 C31.8,461.2 29.6,458.9 26.7,456.7 C23.8,454.5 18.9,453.2 15.6,451.1 C12.3,449.1 8.9,447.0 6.7,444.4 C4.5,441.8 3.0,438.9 2.2,435.6 C1.5,432.3 1.5,428.1 2.2,424.4 C3.0,420.7 4.5,416.4 6.7,413.3 C8.9,410.2 11.9,408.0 15.6,405.6 C19.3,403.2 24.1,401.4 28.9,399.0 C33.7,396.6 39.9,394.2 44.4,391.0 C48.9,387.8 52.7,383.5 55.6,380.0 C58.5,376.5 59.9,373.2 62.0,370.0 C64.1,366.8 65.5,363.4 68.1,360.6Z" fill="url(#logoG)"/>
<g clip-path="url(#blobclip)" stroke="#ffffff" fill="none" stroke-linecap="round"><path d="M72.9,374.4 Q77.9,371.0 83.0,371.6" stroke-width="0.72" stroke-opacity="0.35"/><path d="M13.0,443.9 Q15.0,440.9 16.9,441.9" stroke-width="0.44" stroke-opacity="0.24"/><path d="M95.5,506.2 Q97.8,503.0 100.2,503.8" stroke-width="0.78" stroke-opacity="0.58"/><path d="M129.8,422.4 Q136.6,418.9 143.3,419.5" stroke-width="0.92" stroke-opacity="0.32"/><path d="M32.5,368.0 Q36.0,365.9 39.5,367.8" stroke-width="0.51" stroke-opacity="0.43"/><path d="M143.8,417.6 Q148.5,415.0 153.1,416.4" stroke-width="0.44" stroke-opacity="0.28"/><path d="M153.1,428.4 Q156.6,426.8 160.2,429.3" stroke-width="0.67" stroke-opacity="0.32"/><path d="M178.7,481.3 Q181.9,479.5 185.2,481.8" stroke-width="0.72" stroke-opacity="0.55"/><path d="M164.1,401.1 Q171.0,399.2 177.9,401.3" stroke-width="0.65" stroke-opacity="0.50"/><path d="M34.2,440.3 Q36.3,437.7 38.4,439.1" stroke-width="0.86" stroke-opacity="0.43"/><path d="M197.0,406.2 Q202.1,406.1 207.2,410.0" stroke-width="0.75" stroke-opacity="0.38"/><path d="M189.0,529.2 Q193.4,527.3 197.7,529.4" stroke-width="0.44" stroke-opacity="0.48"/><path d="M145.6,538.7 Q151.3,534.5 157.1,534.4" stroke-width="0.63" stroke-opacity="0.47"/><path d="M5.1,435.0 Q7.3,431.3 9.6,431.6" stroke-width="0.44" stroke-opacity="0.51"/><path d="M29.1,393.3 Q33.0,391.0 37.0,392.7" stroke-width="0.45" stroke-opacity="0.38"/><path d="M123.6,517.3 Q129.7,514.8 135.8,516.2" stroke-width="0.57" stroke-opacity="0.37"/><path d="M80.7,517.4 Q86.3,511.6 92.0,509.8" stroke-width="0.51" stroke-opacity="0.29"/><path d="M52.5,439.6 Q57.0,435.5 61.5,435.5" stroke-width="0.40" stroke-opacity="0.37"/><path d="M83.1,455.4 Q89.8,452.5 96.5,453.5" stroke-width="0.71" stroke-opacity="0.45"/><path d="M152.1,355.5 Q158.1,356.2 164.0,360.9" stroke-width="0.92" stroke-opacity="0.52"/><path d="M88.3,422.8 Q90.8,420.6 93.3,422.5" stroke-width="0.44" stroke-opacity="0.23"/><path d="M47.0,376.6 Q50.4,373.3 53.9,373.9" stroke-width="0.40" stroke-opacity="0.26"/><path d="M22.8,415.9 Q24.9,413.6 27.0,415.2" stroke-width="0.77" stroke-opacity="0.26"/><path d="M56.8,412.7 Q60.3,409.2 63.8,409.7" stroke-width="0.91" stroke-opacity="0.60"/><path d="M104.8,439.3 Q107.2,436.6 109.5,437.8" stroke-width="0.61" stroke-opacity="0.31"/><path d="M186.5,376.5 Q188.3,375.6 190.0,378.8" stroke-width="0.72" stroke-opacity="0.26"/><path d="M122.2,350.3 Q126.4,350.2 130.6,354.2" stroke-width="0.92" stroke-opacity="0.48"/><path d="M58.8,416.5 Q61.6,414.3 64.4,416.0" stroke-width="0.72" stroke-opacity="0.51"/><path d="M74.2,388.5 Q80.2,387.4 86.1,390.4" stroke-width="0.91" stroke-opacity="0.52"/><path d="M184.1,489.3 Q187.3,487.4 190.4,489.5" stroke-width="0.61" stroke-opacity="0.21"/><path d="M6.3,399.5 Q9.5,396.6 12.6,397.7" stroke-width="0.97" stroke-opacity="0.38"/><path d="M210.8,537.7 Q217.6,535.2 224.3,536.7" stroke-width="0.53" stroke-opacity="0.29"/><path d="M44.3,384.9 Q49.4,382.9 54.5,385.0" stroke-width="0.90" stroke-opacity="0.39"/><path d="M146.9,500.9 Q149.3,498.8 151.8,500.7" stroke-width="0.95" stroke-opacity="0.51"/><path d="M168.8,438.2 Q171.6,437.0 174.4,439.7" stroke-width="0.60" stroke-opacity="0.52"/><path d="M218.6,422.2 Q222.0,422.3 225.4,426.5" stroke-width="0.83" stroke-opacity="0.27"/><path d="M28.6,374.5 Q35.1,372.1 41.6,373.7" stroke-width="0.49" stroke-opacity="0.53"/><path d="M220.6,473.2 Q224.2,472.0 227.9,474.9" stroke-width="0.48" stroke-opacity="0.21"/><path d="M218.5,471.7 Q222.7,471.6 226.9,475.5" stroke-width="0.66" stroke-opacity="0.55"/><path d="M185.9,386.2 Q189.1,384.9 192.2,387.6" stroke-width="0.54" stroke-opacity="0.43"/><path d="M58.4,426.7 Q61.0,424.6 63.7,426.5" stroke-width="0.61" stroke-opacity="0.38"/><path d="M131.3,521.3 Q135.4,519.2 139.5,521.0" stroke-width="0.70" stroke-opacity="0.41"/><path d="M117.8,348.6 Q122.0,346.7 126.2,348.8" stroke-width="0.40" stroke-opacity="0.52"/><path d="M38.8,437.3 Q44.1,433.5 49.4,433.8" stroke-width="0.60" stroke-opacity="0.41"/><path d="M125.0,497.9 Q127.5,495.5 130.0,497.0" stroke-width="0.55" stroke-opacity="0.31"/><path d="M173.8,444.0 Q178.4,443.2 183.1,446.4" stroke-width="0.95" stroke-opacity="0.38"/><path d="M137.8,443.6 Q142.4,442.0 146.9,444.4" stroke-width="0.67" stroke-opacity="0.41"/><path d="M107.6,528.6 Q113.0,525.7 118.4,526.8" stroke-width="0.97" stroke-opacity="0.30"/><path d="M125.9,528.9 Q131.4,524.1 136.9,523.3" stroke-width="0.47" stroke-opacity="0.38"/><path d="M16.3,391.9 Q18.6,389.4 20.9,390.9" stroke-width="0.87" stroke-opacity="0.56"/><path d="M34.8,484.6 Q38.9,479.3 43.0,478.0" stroke-width="0.93" stroke-opacity="0.59"/><path d="M49.4,530.7 Q52.7,526.6 56.1,526.4" stroke-width="0.99" stroke-opacity="0.53"/><path d="M36.3,429.1 Q40.5,425.3 44.7,425.4" stroke-width="0.52" stroke-opacity="0.33"/><path d="M162.5,348.8 Q167.0,348.3 171.6,351.7" stroke-width="0.41" stroke-opacity="0.33"/><path d="M140.4,444.9 Q142.6,443.4 144.9,446.0" stroke-width="0.87" stroke-opacity="0.59"/><path d="M23.6,396.8 Q25.7,394.4 27.9,396.1" stroke-width="0.56" stroke-opacity="0.25"/><path d="M95.0,522.7 Q100.3,517.8 105.7,516.8" stroke-width="0.49" stroke-opacity="0.57"/><path d="M128.4,481.6 Q130.7,478.7 132.9,479.8" stroke-width="0.81" stroke-opacity="0.37"/><path d="M16.3,528.0 Q20.7,523.3 25.2,522.7" stroke-width="0.45" stroke-opacity="0.54"/><path d="M15.0,513.2 Q18.2,508.4 21.4,507.6" stroke-width="0.73" stroke-opacity="0.57"/><path d="M60.3,370.2 Q64.8,367.2 69.3,368.2" stroke-width="0.47" stroke-opacity="0.26"/><path d="M11.3,384.3 Q14.6,381.0 17.9,381.6" stroke-width="0.86" stroke-opacity="0.32"/><path d="M112.5,379.7 Q116.2,377.1 119.9,378.5" stroke-width="0.55" stroke-opacity="0.21"/><path d="M164.9,452.5 Q167.9,450.6 170.8,452.8" stroke-width="0.96" stroke-opacity="0.24"/><path d="M184.3,429.3 Q188.4,428.9 192.6,432.5" stroke-width="0.64" stroke-opacity="0.40"/><path d="M154.7,536.6 Q158.5,534.4 162.2,536.3" stroke-width="0.82" stroke-opacity="0.45"/><path d="M91.1,412.8 Q93.2,410.1 95.4,411.5" stroke-width="0.44" stroke-opacity="0.50"/><path d="M57.5,376.8 Q59.9,375.0 62.3,377.1" stroke-width="0.92" stroke-opacity="0.47"/><path d="M63.4,392.2 Q66.9,389.7 70.3,391.1" stroke-width="0.49" stroke-opacity="0.38"/><path d="M59.2,532.5 Q65.2,527.1 71.2,525.7" stroke-width="0.55" stroke-opacity="0.59"/><path d="M69.6,414.5 Q71.6,412.1 73.5,413.6" stroke-width="0.68" stroke-opacity="0.40"/><path d="M45.2,443.4 Q47.0,440.5 48.8,441.6" stroke-width="0.45" stroke-opacity="0.36"/><path d="M9.4,349.4 Q12.7,346.2 16.0,347.0" stroke-width="0.75" stroke-opacity="0.41"/><path d="M168.9,473.2 Q174.3,472.4 179.8,475.6" stroke-width="0.63" stroke-opacity="0.33"/><path d="M221.6,374.1 Q226.3,375.1 231.1,380.1" stroke-width="0.43" stroke-opacity="0.53"/><path d="M200.7,467.3 Q206.1,467.1 211.5,470.8" stroke-width="0.48" stroke-opacity="0.41"/><path d="M113.5,507.8 Q119.5,505.1 125.5,506.5" stroke-width="0.75" stroke-opacity="0.56"/><path d="M153.7,480.2 Q156.7,477.3 159.7,478.4" stroke-width="0.48" stroke-opacity="0.34"/><path d="M23.6,508.0 Q27.7,503.5 31.8,503.1" stroke-width="0.78" stroke-opacity="0.47"/><path d="M110.1,345.6 Q115.8,345.3 121.6,349.0" stroke-width="0.70" stroke-opacity="0.41"/><path d="M148.3,357.9 Q154.0,356.7 159.6,359.5" stroke-width="0.44" stroke-opacity="0.31"/><path d="M164.1,385.0 Q169.1,385.7 174.2,390.4" stroke-width="0.70" stroke-opacity="0.35"/><path d="M107.8,478.3 Q113.5,475.4 119.3,476.5" stroke-width="0.79" stroke-opacity="0.23"/><path d="M33.2,394.5 Q38.5,390.6 43.9,390.6" stroke-width="0.74" stroke-opacity="0.20"/><path d="M13.6,397.4 Q18.9,394.2 24.1,394.9" stroke-width="0.81" stroke-opacity="0.32"/><path d="M116.2,435.6 Q120.4,432.5 124.6,433.4" stroke-width="0.94" stroke-opacity="0.28"/><path d="M220.1,527.6 Q222.2,525.6 224.3,527.7" stroke-width="0.89" stroke-opacity="0.59"/><path d="M101.1,397.4 Q104.1,396.0 107.1,398.7" stroke-width="0.53" stroke-opacity="0.43"/><path d="M31.9,447.2 Q37.5,441.4 43.1,439.7" stroke-width="0.89" stroke-opacity="0.40"/><path d="M199.5,482.2 Q202.6,481.1 205.6,484.1" stroke-width="0.69" stroke-opacity="0.21"/><path d="M0.8,440.9 Q4.3,436.5 7.8,436.1" stroke-width="0.48" stroke-opacity="0.34"/><path d="M71.1,508.8 Q73.0,506.2 74.9,507.6" stroke-width="0.90" stroke-opacity="0.25"/><path d="M208.4,484.0 Q214.9,482.2 221.4,484.4" stroke-width="0.62" stroke-opacity="0.36"/><path d="M224.7,459.9 Q228.4,458.7 232.1,461.6" stroke-width="0.57" stroke-opacity="0.22"/><path d="M22.9,507.8 Q26.1,504.5 29.2,505.2" stroke-width="0.55" stroke-opacity="0.31"/><path d="M115.0,382.0 Q118.7,381.2 122.3,384.4" stroke-width="0.93" stroke-opacity="0.52"/><path d="M142.0,523.1 Q148.5,519.9 155.1,520.6" stroke-width="0.83" stroke-opacity="0.22"/><path d="M164.8,432.9 Q170.4,432.0 176.1,435.1" stroke-width="0.57" stroke-opacity="0.22"/><path d="M208.5,369.8 Q212.6,369.4 216.6,373.0" stroke-width="0.58" stroke-opacity="0.50"/><path d="M219.7,395.7 Q224.7,395.4 229.7,399.1" stroke-width="0.73" stroke-opacity="0.36"/><path d="M37.6,376.5 Q40.7,374.6 43.7,376.6" stroke-width="0.70" stroke-opacity="0.29"/><path d="M203.9,539.3 Q208.1,536.4 212.2,537.5" stroke-width="0.52" stroke-opacity="0.24"/><path d="M76.9,362.8 Q80.1,360.4 83.3,362.0" stroke-width="0.74" stroke-opacity="0.55"/><path d="M168.7,425.5 Q172.7,424.2 176.7,426.8" stroke-width="0.63" stroke-opacity="0.34"/><path d="M14.0,399.1 Q19.9,393.7 25.8,392.3" stroke-width="0.70" stroke-opacity="0.45"/><path d="M194.1,387.1 Q197.4,385.9 200.7,388.6" stroke-width="0.64" stroke-opacity="0.38"/><path d="M214.6,510.5 Q220.9,507.5 227.2,508.5" stroke-width="0.42" stroke-opacity="0.48"/><path d="M201.5,437.3 Q206.5,435.2 211.4,437.2" stroke-width="0.63" stroke-opacity="0.57"/><path d="M185.8,511.8 Q192.5,508.8 199.3,509.8" stroke-width="0.47" stroke-opacity="0.26"/><path d="M117.5,478.0 Q124.2,475.6 130.9,477.1" stroke-width="0.79" stroke-opacity="0.51"/><path d="M102.9,452.5 Q105.1,450.5 107.3,452.5" stroke-width="0.54" stroke-opacity="0.57"/><path d="M145.2,404.2 Q147.9,402.2 150.5,404.3" stroke-width="0.78" stroke-opacity="0.48"/><path d="M25.2,358.7 Q29.8,356.1 34.4,357.4" stroke-width="0.63" stroke-opacity="0.29"/><path d="M135.2,347.0 Q138.7,345.8 142.1,348.6" stroke-width="0.98" stroke-opacity="0.46"/><path d="M198.8,437.7 Q202.0,436.0 205.2,438.3" stroke-width="0.98" stroke-opacity="0.48"/><path d="M69.2,349.2 Q73.6,347.7 78.1,350.1" stroke-width="0.65" stroke-opacity="0.30"/><path d="M150.2,525.4 Q153.0,522.1 155.9,522.8" stroke-width="0.60" stroke-opacity="0.37"/><path d="M153.6,383.6 Q159.2,383.6 164.9,387.6" stroke-width="0.70" stroke-opacity="0.28"/><path d="M218.2,405.8 Q224.1,405.3 230.0,408.8" stroke-width="0.53" stroke-opacity="0.50"/><path d="M66.4,530.6 Q69.9,525.9 73.4,525.1" stroke-width="0.53" stroke-opacity="0.37"/><path d="M149.7,530.0 Q152.3,527.3 155.0,528.6" stroke-width="0.53" stroke-opacity="0.59"/><path d="M31.9,355.1 Q34.2,352.6 36.4,354.2" stroke-width="0.94" stroke-opacity="0.55"/><path d="M164.9,539.5 Q171.3,535.8 177.7,536.1" stroke-width="0.51" stroke-opacity="0.57"/><path d="M167.9,351.2 Q173.0,350.8 178.1,354.3" stroke-width="0.62" stroke-opacity="0.33"/><path d="M38.1,345.6 Q41.4,343.0 44.8,344.4" stroke-width="0.97" stroke-opacity="0.25"/><path d="M217.0,385.4 Q220.1,385.6 223.2,389.7" stroke-width="0.89" stroke-opacity="0.37"/><path d="M11.1,437.3 Q14.8,434.4 18.6,435.5" stroke-width="0.52" stroke-opacity="0.35"/><path d="M201.8,350.9 Q205.1,351.3 208.3,355.7" stroke-width="0.86" stroke-opacity="0.22"/><path d="M7.8,357.2 Q14.0,352.9 20.2,352.5" stroke-width="0.85" stroke-opacity="0.56"/><path d="M76.3,398.1 Q83.1,395.8 89.9,397.5" stroke-width="0.56" stroke-opacity="0.49"/><path d="M71.2,398.7 Q73.2,396.8 75.2,398.8" stroke-width="0.95" stroke-opacity="0.45"/><path d="M212.2,349.7 Q215.0,349.3 217.8,352.8" stroke-width="0.97" stroke-opacity="0.58"/><path d="M87.0,394.0 Q91.1,391.7 95.3,393.5" stroke-width="0.96" stroke-opacity="0.27"/><path d="M180.6,489.0 Q186.6,488.0 192.7,490.9" stroke-width="0.76" stroke-opacity="0.33"/><path d="M71.9,415.6 Q77.4,411.4 82.9,411.2" stroke-width="0.52" stroke-opacity="0.50"/><path d="M55.6,357.6 Q57.8,355.5 60.0,357.4" stroke-width="0.60" stroke-opacity="0.59"/><path d="M198.8,537.6 Q202.0,534.8 205.2,535.9" stroke-width="0.46" stroke-opacity="0.40"/><path d="M159.7,432.2 Q162.9,430.4 166.0,432.5" stroke-width="0.77" stroke-opacity="0.47"/><path d="M168.3,510.2 Q173.4,506.7 178.5,507.3" stroke-width="0.90" stroke-opacity="0.32"/><path d="M127.5,417.7 Q133.2,415.0 138.8,416.3" stroke-width="0.55" stroke-opacity="0.30"/><path d="M34.5,517.4 Q38.3,512.4 42.1,511.3" stroke-width="0.64" stroke-opacity="0.60"/><path d="M114.1,390.1 Q120.1,388.9 126.1,391.7" stroke-width="0.99" stroke-opacity="0.24"/><path d="M106.8,504.7 Q113.0,502.2 119.2,503.7" stroke-width="0.42" stroke-opacity="0.32"/><path d="M26.8,382.0 Q33.6,378.6 40.3,379.2" stroke-width="0.96" stroke-opacity="0.35"/><path d="M194.9,432.6 Q198.0,431.8 201.0,435.0" stroke-width="0.97" stroke-opacity="0.24"/><path d="M134.1,465.9 Q137.2,463.4 140.2,465.0" stroke-width="0.48" stroke-opacity="0.28"/><path d="M57.4,461.9 Q62.0,457.4 66.6,456.8" stroke-width="0.41" stroke-opacity="0.33"/><path d="M152.6,381.1 Q156.2,379.4 159.7,381.6" stroke-width="0.88" stroke-opacity="0.42"/><path d="M14.2,364.8 Q18.1,361.9 22.0,363.1" stroke-width="0.78" stroke-opacity="0.24"/><path d="M36.8,480.6 Q40.2,476.4 43.6,476.1" stroke-width="0.58" stroke-opacity="0.58"/><path d="M70.3,455.5 Q73.9,452.2 77.4,453.0" stroke-width="0.92" stroke-opacity="0.60"/><path d="M81.9,383.5 Q87.4,380.4 92.9,381.3" stroke-width="0.40" stroke-opacity="0.56"/><path d="M95.3,505.0 Q99.3,502.4 103.3,503.8" stroke-width="0.68" stroke-opacity="0.27"/><path d="M3.3,452.6 Q8.3,448.9 13.2,449.3" stroke-width="0.45" stroke-opacity="0.45"/><path d="M83.4,443.4 Q86.0,440.5 88.6,441.7" stroke-width="0.71" stroke-opacity="0.57"/><path d="M24.5,440.6 Q30.4,437.6 36.3,438.5" stroke-width="0.52" stroke-opacity="0.25"/><path d="M212.2,535.2 Q216.5,532.3 220.8,533.3" stroke-width="0.96" stroke-opacity="0.36"/><path d="M203.4,466.0 Q209.6,464.0 215.7,465.9" stroke-width="0.87" stroke-opacity="0.29"/><path d="M91.0,510.0 Q96.3,505.0 101.7,503.9" stroke-width="0.53" stroke-opacity="0.36"/><path d="M116.5,419.8 Q119.1,417.4 121.7,419.0" stroke-width="0.83" stroke-opacity="0.56"/><path d="M9.2,454.7 Q13.5,448.8 17.8,446.9" stroke-width="0.90" stroke-opacity="0.25"/><path d="M134.9,452.3 Q140.0,449.5 145.1,450.8" stroke-width="0.65" stroke-opacity="0.43"/><path d="M95.8,473.5 Q99.9,470.3 103.9,471.2" stroke-width="0.41" stroke-opacity="0.45"/><path d="M110.1,390.9 Q115.9,389.9 121.6,392.9" stroke-width="0.67" stroke-opacity="0.27"/><path d="M106.5,365.9 Q109.1,364.0 111.7,366.2" stroke-width="0.46" stroke-opacity="0.38"/><path d="M114.8,352.9 Q120.0,350.7 125.1,352.4" stroke-width="0.84" stroke-opacity="0.51"/><path d="M115.1,355.6 Q119.6,354.0 124.1,356.4" stroke-width="0.97" stroke-opacity="0.25"/><path d="M192.8,539.2 Q198.5,537.7 204.1,540.2" stroke-width="0.52" stroke-opacity="0.59"/><path d="M110.7,531.5 Q116.4,526.3 122.1,525.0" stroke-width="0.87" stroke-opacity="0.57"/><path d="M14.7,413.4 Q19.7,408.4 24.6,407.4" stroke-width="0.94" stroke-opacity="0.31"/><path d="M183.5,373.0 Q187.3,373.4 191.1,377.8" stroke-width="0.52" stroke-opacity="0.31"/><path d="M113.9,407.2 Q116.0,404.9 118.2,406.6" stroke-width="0.50" stroke-opacity="0.57"/><path d="M152.9,519.6 Q155.8,517.5 158.6,519.5" stroke-width="0.47" stroke-opacity="0.41"/><path d="M143.2,415.2 Q149.5,413.9 155.8,416.6" stroke-width="0.75" stroke-opacity="0.55"/><path d="M23.5,538.6 Q27.3,533.1 31.1,531.7" stroke-width="0.88" stroke-opacity="0.31"/><path d="M222.9,457.6 Q226.4,457.0 229.9,460.5" stroke-width="0.67" stroke-opacity="0.27"/><path d="M167.3,354.4 Q173.3,353.8 179.2,357.1" stroke-width="0.78" stroke-opacity="0.59"/><path d="M131.8,474.4 Q135.1,471.1 138.5,471.9" stroke-width="0.42" stroke-opacity="0.26"/><path d="M138.6,429.3 Q143.1,428.3 147.5,431.4" stroke-width="0.48" stroke-opacity="0.29"/><path d="M146.9,349.3 Q148.9,347.8 150.9,350.2" stroke-width="0.46" stroke-opacity="0.34"/><path d="M50.5,458.8 Q54.8,454.4 59.1,453.9" stroke-width="0.77" stroke-opacity="0.39"/><path d="M30.3,527.6 Q32.5,523.3 34.8,523.0" stroke-width="0.46" stroke-opacity="0.46"/><path d="M196.0,497.5 Q200.0,495.3 204.0,497.0" stroke-width="0.41" stroke-opacity="0.46"/><path d="M126.5,413.3 Q131.8,411.3 137.0,413.4" stroke-width="0.96" stroke-opacity="0.49"/><path d="M55.9,521.2 Q57.9,518.1 59.8,519.0" stroke-width="0.64" stroke-opacity="0.30"/><path d="M13.1,496.9 Q14.9,493.7 16.6,494.6" stroke-width="0.96" stroke-opacity="0.26"/><path d="M44.9,463.6 Q49.2,460.1 53.5,460.6" stroke-width="0.89" stroke-opacity="0.27"/><path d="M69.6,403.6 Q71.9,401.7 74.1,403.8" stroke-width="0.87" stroke-opacity="0.49"/><path d="M1.4,509.7 Q5.8,504.0 10.1,502.2" stroke-width="0.85" stroke-opacity="0.38"/><path d="M50.8,365.5 Q53.8,362.5 56.8,363.4" stroke-width="0.60" stroke-opacity="0.50"/><path d="M156.4,509.8 Q161.8,506.5 167.2,507.2" stroke-width="0.73" stroke-opacity="0.37"/><path d="M177.4,447.0 Q180.7,445.7 183.9,448.3" stroke-width="0.98" stroke-opacity="0.29"/><path d="M198.0,348.0 Q201.1,347.1 204.2,350.2" stroke-width="0.85" stroke-opacity="0.58"/><path d="M167.9,408.7 Q174.2,407.5 180.6,410.2" stroke-width="0.54" stroke-opacity="0.56"/><path d="M141.9,480.1 Q147.2,478.9 152.4,481.6" stroke-width="0.68" stroke-opacity="0.54"/><path d="M157.0,512.2 Q161.1,510.1 165.3,512.1" stroke-width="0.74" stroke-opacity="0.32"/><path d="M47.7,466.4 Q50.0,463.9 52.4,465.5" stroke-width="0.49" stroke-opacity="0.21"/><path d="M24.0,526.1 Q26.5,521.4 29.0,520.6" stroke-width="0.42" stroke-opacity="0.22"/><path d="M155.8,468.6 Q161.3,467.2 166.7,469.8" stroke-width="0.44" stroke-opacity="0.44"/><path d="M81.8,504.4 Q87.8,501.3 93.8,502.2" stroke-width="0.44" stroke-opacity="0.55"/><path d="M205.7,529.1 Q208.3,526.8 210.8,528.4" stroke-width="0.47" stroke-opacity="0.21"/><path d="M190.7,503.3 Q195.8,502.3 200.9,505.2" stroke-width="0.78" stroke-opacity="0.31"/><path d="M22.5,364.1 Q27.9,360.1 33.3,360.1" stroke-width="0.59" stroke-opacity="0.37"/><path d="M4.7,395.1 Q8.0,392.2 11.3,393.4" stroke-width="0.62" stroke-opacity="0.33"/><path d="M216.9,443.2 Q222.8,443.3 228.7,447.4" stroke-width="0.42" stroke-opacity="0.37"/><path d="M98.2,495.7 Q101.9,493.0 105.5,494.3" stroke-width="0.72" stroke-opacity="0.29"/><path d="M194.0,362.7 Q199.9,362.3 205.8,365.8" stroke-width="0.40" stroke-opacity="0.28"/><path d="M171.5,535.7 Q173.5,533.4 175.5,535.1" stroke-width="0.69" stroke-opacity="0.52"/><path d="M41.5,441.4 Q45.2,438.7 48.9,440.1" stroke-width="0.56" stroke-opacity="0.58"/><path d="M63.8,386.9 Q69.3,384.2 74.8,385.5" stroke-width="0.47" stroke-opacity="0.45"/><path d="M18.2,498.6 Q23.1,494.2 28.1,493.8" stroke-width="0.78" stroke-opacity="0.34"/><path d="M90.3,421.9 Q96.4,417.9 102.5,417.8" stroke-width="0.93" stroke-opacity="0.21"/><path d="M46.4,396.3 Q52.7,393.0 59.1,393.6" stroke-width="0.63" stroke-opacity="0.55"/><path d="M52.6,434.9 Q57.1,432.1 61.7,433.3" stroke-width="0.85" stroke-opacity="0.46"/><path d="M78.4,408.7 Q81.2,406.8 84.0,408.9" stroke-width="0.80" stroke-opacity="0.50"/><path d="M38.1,430.6 Q43.8,426.9 49.4,427.1" stroke-width="0.48" stroke-opacity="0.38"/><path d="M199.2,391.4 Q202.0,390.2 204.9,392.9" stroke-width="0.82" stroke-opacity="0.54"/><path d="M34.8,375.4 Q37.9,372.5 41.0,373.6" stroke-width="0.71" stroke-opacity="0.26"/><path d="M73.8,381.9 Q80.7,380.2 87.6,382.5" stroke-width="0.46" stroke-opacity="0.58"/><path d="M22.9,419.9 Q29.6,416.5 36.4,417.0" stroke-width="0.84" stroke-opacity="0.37"/><path d="M44.1,469.4 Q46.3,466.0 48.4,466.7" stroke-width="0.63" stroke-opacity="0.21"/><path d="M89.8,499.2 Q94.9,495.4 100.1,495.6" stroke-width="0.78" stroke-opacity="0.39"/><path d="M31.9,462.7 Q35.7,459.4 39.5,460.1" stroke-width="0.94" stroke-opacity="0.37"/><path d="M129.1,491.1 Q133.1,487.8 137.0,488.6" stroke-width="0.83" stroke-opacity="0.55"/><path d="M174.2,481.5 Q180.4,480.2 186.6,482.9" stroke-width="0.78" stroke-opacity="0.38"/><path d="M70.4,467.5 Q72.8,464.6 75.1,465.8" stroke-width="0.87" stroke-opacity="0.49"/><path d="M141.7,393.8 Q145.8,392.3 149.8,394.8" stroke-width="0.77" stroke-opacity="0.36"/><path d="M151.9,526.4 Q154.8,524.1 157.7,525.7" stroke-width="0.87" stroke-opacity="0.36"/><path d="M110.2,535.1 Q112.3,532.3 114.3,533.6" stroke-width="0.50" stroke-opacity="0.51"/><path d="M211.6,446.2 Q214.0,445.0 216.4,447.7" stroke-width="0.72" stroke-opacity="0.49"/><path d="M115.2,469.7 Q121.3,466.7 127.4,467.8" stroke-width="0.65" stroke-opacity="0.58"/><path d="M47.3,478.5 Q51.1,475.3 54.8,476.1" stroke-width="0.47" stroke-opacity="0.59"/><path d="M80.0,356.0 Q83.4,354.0 86.7,355.9" stroke-width="0.41" stroke-opacity="0.37"/><path d="M94.6,481.2 Q98.1,477.7 101.6,478.3" stroke-width="0.53" stroke-opacity="0.50"/><path d="M211.5,447.8 Q214.3,447.0 217.2,450.2" stroke-width="0.64" stroke-opacity="0.28"/><path d="M29.1,496.4 Q34.4,491.6 39.8,490.8" stroke-width="0.68" stroke-opacity="0.42"/><path d="M50.8,533.0 Q54.1,529.1 57.4,529.3" stroke-width="0.89" stroke-opacity="0.53"/><path d="M105.3,402.4 Q110.0,399.5 114.6,400.5" stroke-width="0.90" stroke-opacity="0.34"/><path d="M191.4,397.1 Q195.2,395.9 199.0,398.6" stroke-width="0.66" stroke-opacity="0.27"/><path d="M0.6,485.7 Q3.1,481.4 5.6,481.1" stroke-width="0.58" stroke-opacity="0.39"/><path d="M96.4,469.3 Q101.5,465.7 106.5,466.1" stroke-width="0.96" stroke-opacity="0.54"/><path d="M12.8,506.4 Q18.6,501.3 24.3,500.2" stroke-width="0.48" stroke-opacity="0.53"/><path d="M142.5,347.9 Q144.3,346.9 146.1,349.9" stroke-width="0.79" stroke-opacity="0.30"/><path d="M22.8,372.8 Q26.0,370.5 29.1,372.2" stroke-width="0.61" stroke-opacity="0.26"/><path d="M203.4,499.4 Q206.2,498.1 208.9,500.9" stroke-width="0.77" stroke-opacity="0.51"/><path d="M150.4,519.3 Q156.3,517.3 162.3,519.3" stroke-width="0.52" stroke-opacity="0.48"/><path d="M119.4,489.7 Q123.6,487.6 127.8,489.6" stroke-width="0.73" stroke-opacity="0.31"/><path d="M52.7,372.2 Q56.9,368.7 61.1,369.2" stroke-width="0.68" stroke-opacity="0.26"/><path d="M110.6,442.1 Q115.2,440.5 119.9,442.9" stroke-width="0.40" stroke-opacity="0.54"/><path d="M105.3,454.7 Q110.6,452.8 115.9,454.8" stroke-width="0.62" stroke-opacity="0.37"/><path d="M216.1,359.7 Q220.5,360.5 224.8,365.4" stroke-width="0.42" stroke-opacity="0.44"/><path d="M153.6,526.6 Q157.2,524.9 160.9,527.1" stroke-width="0.71" stroke-opacity="0.39"/><path d="M202.0,351.6 Q206.7,352.5 211.5,357.4" stroke-width="0.60" stroke-opacity="0.54"/><path d="M82.4,437.5 Q87.0,435.3 91.6,437.0" stroke-width="0.53" stroke-opacity="0.37"/><path d="M95.0,453.0 Q100.9,449.3 106.8,449.5" stroke-width="0.90" stroke-opacity="0.36"/><path d="M113.3,398.0 Q117.7,397.2 122.1,400.4" stroke-width="0.79" stroke-opacity="0.52"/><path d="M74.5,406.8 Q77.9,404.5 81.4,406.2" stroke-width="0.78" stroke-opacity="0.51"/><path d="M9.0,485.9 Q14.4,480.4 19.8,479.0" stroke-width="0.43" stroke-opacity="0.32"/><path d="M1.4,382.0 Q7.7,378.2 14.1,378.4" stroke-width="0.79" stroke-opacity="0.52"/><path d="M204.7,464.3 Q209.6,463.5 214.6,466.7" stroke-width="0.82" stroke-opacity="0.44"/><path d="M153.2,386.4 Q158.5,385.4 163.7,388.4" stroke-width="0.86" stroke-opacity="0.24"/><path d="M40.8,352.2 Q46.6,350.8 52.5,353.4" stroke-width="0.79" stroke-opacity="0.35"/><path d="M185.1,498.4 Q189.9,495.8 194.7,497.3" stroke-width="0.58" stroke-opacity="0.37"/><path d="M71.7,429.0 Q76.9,427.0 82.1,429.1" stroke-width="0.43" stroke-opacity="0.43"/><path d="M8.9,368.2 Q14.8,364.8 20.6,365.4" stroke-width="0.95" stroke-opacity="0.38"/><path d="M3.2,420.5 Q8.0,417.4 12.9,418.4" stroke-width="0.99" stroke-opacity="0.39"/><path d="M92.8,364.9 Q98.0,362.4 103.2,363.9" stroke-width="0.49" stroke-opacity="0.21"/><path d="M1.1,478.3 Q3.5,475.4 5.9,476.4" stroke-width="0.45" stroke-opacity="0.55"/><path d="M29.0,348.5 Q34.4,345.0 39.8,345.5" stroke-width="0.84" stroke-opacity="0.27"/><path d="M11.3,495.9 Q16.3,491.6 21.4,491.2" stroke-width="0.84" stroke-opacity="0.23"/><path d="M141.4,483.3 Q145.7,481.8 150.0,484.2" stroke-width="0.55" stroke-opacity="0.59"/><path d="M161.4,347.2 Q163.3,346.1 165.2,348.9" stroke-width="0.89" stroke-opacity="0.23"/><path d="M70.0,487.2 Q72.8,484.7 75.5,486.1" stroke-width="0.69" stroke-opacity="0.22"/><path d="M82.7,457.1 Q86.8,454.5 91.0,455.8" stroke-width="0.49" stroke-opacity="0.52"/><path d="M81.7,470.8 Q86.6,467.1 91.5,467.4" stroke-width="0.63" stroke-opacity="0.51"/><path d="M212.6,498.0 Q217.4,496.0 222.3,498.1" stroke-width="0.44" stroke-opacity="0.59"/><path d="M158.2,506.3 Q161.9,504.1 165.5,505.9" stroke-width="0.99" stroke-opacity="0.53"/><path d="M135.3,405.2 Q139.2,404.3 143.2,407.5" stroke-width="0.63" stroke-opacity="0.47"/><path d="M135.4,519.7 Q141.1,515.7 146.8,515.7" stroke-width="0.40" stroke-opacity="0.31"/><path d="M95.1,459.4 Q101.1,457.3 107.2,459.2" stroke-width="0.43" stroke-opacity="0.53"/><path d="M182.6,514.1 Q187.4,511.4 192.2,512.6" stroke-width="0.91" stroke-opacity="0.52"/><path d="M154.0,523.2 Q157.5,519.8 161.0,520.4" stroke-width="0.73" stroke-opacity="0.52"/><path d="M45.1,491.3 Q50.5,485.5 56.0,483.6" stroke-width="0.76" stroke-opacity="0.47"/><path d="M104.7,385.3 Q107.9,383.8 111.2,386.3" stroke-width="0.87" stroke-opacity="0.38"/><path d="M19.7,502.3 Q24.1,496.4 28.4,494.4" stroke-width="0.75" stroke-opacity="0.56"/><path d="M199.1,446.8 Q203.4,445.8 207.6,448.9" stroke-width="0.51" stroke-opacity="0.28"/><path d="M40.7,481.7 Q44.1,478.1 47.6,478.5" stroke-width="0.64" stroke-opacity="0.41"/><path d="M33.5,353.7 Q40.4,350.3 47.2,350.9" stroke-width="0.46" stroke-opacity="0.45"/><path d="M177.2,375.5 Q182.0,374.7 186.8,377.9" stroke-width="0.71" stroke-opacity="0.21"/><path d="M7.6,538.1 Q12.2,531.8 16.8,529.5" stroke-width="0.74" stroke-opacity="0.30"/><path d="M175.3,428.1 Q181.7,428.1 188.2,432.1" stroke-width="0.89" stroke-opacity="0.59"/><path d="M57.1,352.4 Q60.1,349.8 63.0,351.1" stroke-width="0.45" stroke-opacity="0.22"/><path d="M125.4,514.8 Q129.7,512.7 134.0,514.5" stroke-width="0.95" stroke-opacity="0.23"/><path d="M134.6,422.5 Q137.1,421.2 139.6,423.9" stroke-width="0.55" stroke-opacity="0.43"/><path d="M144.1,531.5 Q149.3,528.0 154.4,528.5" stroke-width="0.67" stroke-opacity="0.26"/><path d="M217.3,538.4 Q220.3,535.7 223.4,537.1" stroke-width="0.55" stroke-opacity="0.34"/><path d="M203.1,521.4 Q209.2,518.1 215.2,518.8" stroke-width="0.87" stroke-opacity="0.48"/><path d="M145.5,537.2 Q147.6,534.2 149.7,535.3" stroke-width="0.85" stroke-opacity="0.58"/><path d="M152.3,403.3 Q157.1,402.7 161.8,406.1" stroke-width="0.46" stroke-opacity="0.33"/><path d="M57.8,369.2 Q62.1,366.1 66.3,367.0" stroke-width="0.54" stroke-opacity="0.26"/><path d="M152.5,347.5 Q158.0,346.3 163.5,349.2" stroke-width="0.42" stroke-opacity="0.57"/><path d="M49.6,527.1 Q55.5,522.9 61.4,522.6" stroke-width="0.48" stroke-opacity="0.38"/><path d="M21.8,526.1 Q27.0,520.6 32.1,519.1" stroke-width="0.67" stroke-opacity="0.34"/><path d="M185.2,438.1 Q190.3,436.1 195.5,438.1" stroke-width="0.53" stroke-opacity="0.22"/><path d="M160.6,452.9 Q163.2,451.5 165.9,454.2" stroke-width="0.56" stroke-opacity="0.36"/><path d="M35.0,397.9 Q40.9,393.8 46.7,393.8" stroke-width="0.50" stroke-opacity="0.40"/><path d="M71.6,521.1 Q74.1,518.5 76.6,520.0" stroke-width="0.43" stroke-opacity="0.56"/><path d="M150.4,386.2 Q154.7,384.6 159.1,387.0" stroke-width="0.55" stroke-opacity="0.28"/><path d="M82.0,538.2 Q88.7,534.4 95.5,534.6" stroke-width="0.46" stroke-opacity="0.32"/><path d="M201.6,356.2 Q206.9,356.2 212.2,360.2" stroke-width="0.99" stroke-opacity="0.21"/><path d="M181.6,411.5 Q184.3,409.5 187.0,411.4" stroke-width="0.90" stroke-opacity="0.41"/><path d="M41.8,429.9 Q47.7,425.0 53.6,424.0" stroke-width="0.74" stroke-opacity="0.26"/><path d="M40.5,495.2 Q44.9,489.8 49.3,488.4" stroke-width="0.45" stroke-opacity="0.23"/><path d="M136.9,441.6 Q140.3,439.1 143.6,440.6" stroke-width="0.77" stroke-opacity="0.48"/><path d="M182.6,458.7 Q185.6,456.4 188.6,458.0" stroke-width="0.84" stroke-opacity="0.36"/><path d="M162.4,355.8 Q168.2,355.2 174.1,358.7" stroke-width="0.91" stroke-opacity="0.55"/><path d="M110.9,348.0 Q117.4,347.0 123.9,349.9" stroke-width="0.92" stroke-opacity="0.31"/><path d="M41.9,507.2 Q44.8,502.7 47.7,502.2" stroke-width="0.62" stroke-opacity="0.44"/><path d="M1.0,446.4 Q4.7,442.3 8.4,442.3" stroke-width="0.47" stroke-opacity="0.49"/><path d="M183.7,513.8 Q187.3,512.0 190.9,514.3" stroke-width="0.63" stroke-opacity="0.50"/><path d="M13.8,515.2 Q19.1,509.0 24.5,506.9" stroke-width="0.71" stroke-opacity="0.41"/><path d="M120.9,349.0 Q127.7,347.4 134.6,349.8" stroke-width="0.51" stroke-opacity="0.24"/><path d="M56.4,504.3 Q58.0,501.0 59.7,501.7" stroke-width="0.82" stroke-opacity="0.28"/><path d="M4.0,461.9 Q8.2,457.4 12.4,456.9" stroke-width="0.82" stroke-opacity="0.24"/><path d="M195.6,484.8 Q197.9,482.6 200.1,484.4" stroke-width="0.70" stroke-opacity="0.40"/><path d="M62.9,368.8 Q66.8,365.8 70.7,366.8" stroke-width="0.76" stroke-opacity="0.54"/><path d="M33.1,456.7 Q37.9,451.5 42.6,450.3" stroke-width="0.90" stroke-opacity="0.58"/><path d="M87.5,427.0 Q93.6,424.2 99.8,425.4" stroke-width="0.64" stroke-opacity="0.58"/><path d="M174.8,411.0 Q178.0,409.4 181.2,411.9" stroke-width="0.66" stroke-opacity="0.59"/><path d="M181.0,523.0 Q187.0,521.6 193.1,524.2" stroke-width="0.43" stroke-opacity="0.41"/><path d="M215.5,527.2 Q218.8,525.2 222.0,527.2" stroke-width="0.78" stroke-opacity="0.35"/><path d="M119.4,358.5 Q123.5,357.2 127.6,359.9" stroke-width="0.41" stroke-opacity="0.26"/><path d="M218.2,496.4 Q224.7,495.8 231.3,499.1" stroke-width="0.89" stroke-opacity="0.55"/><path d="M199.0,351.7 Q203.9,351.5 208.8,355.3" stroke-width="0.81" stroke-opacity="0.31"/><path d="M122.0,525.3 Q126.7,521.2 131.3,521.1" stroke-width="0.71" stroke-opacity="0.37"/><path d="M213.9,401.1 Q217.1,400.6 220.3,404.2" stroke-width="0.47" stroke-opacity="0.44"/><path d="M215.1,445.2 Q218.4,444.0 221.6,446.8" stroke-width="0.72" stroke-opacity="0.26"/><path d="M27.9,370.6 Q31.2,367.8 34.6,368.9" stroke-width="0.57" stroke-opacity="0.30"/><path d="M19.8,451.5 Q25.5,447.1 31.2,446.6" stroke-width="0.74" stroke-opacity="0.46"/><path d="M45.3,483.5 Q49.2,479.7 53.1,479.9" stroke-width="0.77" stroke-opacity="0.39"/><path d="M69.9,392.2 Q73.0,389.9 76.0,391.6" stroke-width="0.63" stroke-opacity="0.43"/><path d="M2.7,413.8 Q8.1,408.5 13.4,407.2" stroke-width="0.73" stroke-opacity="0.40"/><path d="M64.1,537.6 Q67.3,534.2 70.5,534.8" stroke-width="0.50" stroke-opacity="0.23"/><path d="M196.0,430.8 Q198.3,429.2 200.6,431.6" stroke-width="0.66" stroke-opacity="0.49"/><path d="M24.6,388.9 Q31.3,385.9 38.0,386.9" stroke-width="0.49" stroke-opacity="0.33"/><path d="M79.3,476.7 Q84.3,474.0 89.4,475.3" stroke-width="0.89" stroke-opacity="0.41"/><path d="M166.2,489.9 Q172.0,487.7 177.8,489.4" stroke-width="0.87" stroke-opacity="0.48"/><path d="M205.8,369.8 Q212.0,369.1 218.3,372.3" stroke-width="0.86" stroke-opacity="0.43"/><path d="M112.0,532.7 Q116.5,528.9 121.0,529.0" stroke-width="0.87" stroke-opacity="0.55"/><path d="M136.7,419.0 Q140.9,417.2 145.2,419.3" stroke-width="0.83" stroke-opacity="0.32"/><path d="M87.9,453.3 Q91.6,450.1 95.4,450.9" stroke-width="0.87" stroke-opacity="0.54"/><path d="M112.4,431.6 Q115.3,429.1 118.2,430.6" stroke-width="0.49" stroke-opacity="0.43"/><path d="M130.9,362.1 Q137.4,360.8 144.0,363.5" stroke-width="0.91" stroke-opacity="0.54"/><path d="M215.7,384.8 Q219.0,385.3 222.3,389.8" stroke-width="0.41" stroke-opacity="0.22"/><path d="M127.1,442.0 Q133.7,440.6 140.3,443.2" stroke-width="0.72" stroke-opacity="0.60"/><path d="M116.4,445.9 Q121.8,443.1 127.2,444.3" stroke-width="0.61" stroke-opacity="0.44"/><path d="M79.0,529.8 Q83.8,525.5 88.7,525.2" stroke-width="0.46" stroke-opacity="0.35"/><path d="M90.2,454.5 Q95.1,452.4 99.9,454.2" stroke-width="0.98" stroke-opacity="0.39"/><path d="M99.0,466.8 Q105.7,462.8 112.4,462.8" stroke-width="0.72" stroke-opacity="0.53"/><path d="M38.4,407.0 Q45.3,404.3 52.1,405.6" stroke-width="0.71" stroke-opacity="0.24"/><path d="M201.3,479.5 Q207.0,479.7 212.7,483.9" stroke-width="0.93" stroke-opacity="0.37"/><path d="M35.2,401.5 Q39.6,398.4 44.0,399.2" stroke-width="0.51" stroke-opacity="0.27"/><path d="M141.8,462.6 Q145.5,461.4 149.2,464.1" stroke-width="0.78" stroke-opacity="0.22"/><path d="M92.6,498.6 Q96.0,495.8 99.4,497.0" stroke-width="0.40" stroke-opacity="0.32"/><path d="M189.5,459.3 Q194.8,457.2 200.2,459.1" stroke-width="0.70" stroke-opacity="0.42"/><path d="M59.9,471.1 Q64.5,468.6 69.1,470.0" stroke-width="0.74" stroke-opacity="0.36"/><path d="M27.3,375.6 Q32.6,371.2 37.9,370.9" stroke-width="0.46" stroke-opacity="0.27"/><path d="M117.6,505.5 Q122.6,503.0 127.6,504.5" stroke-width="0.44" stroke-opacity="0.20"/><path d="M173.4,408.0 Q178.9,406.8 184.4,409.6" stroke-width="0.50" stroke-opacity="0.31"/><path d="M22.4,521.3 Q26.1,516.0 29.8,514.8" stroke-width="0.67" stroke-opacity="0.35"/><path d="M12.3,518.7 Q16.7,514.5 21.2,514.4" stroke-width="0.66" stroke-opacity="0.45"/><path d="M56.1,353.6 Q62.7,352.4 69.3,355.2" stroke-width="0.59" stroke-opacity="0.56"/><path d="M183.6,404.2 Q188.0,404.6 192.4,409.0" stroke-width="0.70" stroke-opacity="0.58"/><path d="M54.7,421.0 Q59.8,416.9 65.0,416.8" stroke-width="0.59" stroke-opacity="0.55"/><path d="M109.0,499.6 Q111.9,496.2 114.8,496.9" stroke-width="0.62" stroke-opacity="0.27"/><path d="M218.6,401.7 Q223.3,400.7 228.0,403.7" stroke-width="0.72" stroke-opacity="0.35"/><path d="M90.7,357.8 Q93.3,356.3 95.8,358.9" stroke-width="0.61" stroke-opacity="0.30"/><path d="M43.0,400.3 Q45.9,396.9 48.7,397.4" stroke-width="0.80" stroke-opacity="0.34"/><path d="M35.1,482.6 Q37.1,479.2 39.1,479.8" stroke-width="0.90" stroke-opacity="0.25"/><path d="M99.7,508.1 Q105.0,503.2 110.3,502.3" stroke-width="0.61" stroke-opacity="0.49"/><path d="M84.8,531.9 Q87.8,529.2 90.7,530.6" stroke-width="0.70" stroke-opacity="0.29"/><path d="M101.9,370.5 Q107.4,368.2 112.9,369.9" stroke-width="0.94" stroke-opacity="0.44"/><path d="M82.8,393.0 Q87.7,390.0 92.7,390.9" stroke-width="0.92" stroke-opacity="0.25"/><path d="M115.4,450.8 Q118.8,448.9 122.1,451.0" stroke-width="0.63" stroke-opacity="0.46"/><path d="M127.7,405.6 Q131.6,403.0 135.5,404.4" stroke-width="0.51" stroke-opacity="0.54"/><path d="M72.2,474.2 Q74.7,471.5 77.1,472.7" stroke-width="0.62" stroke-opacity="0.40"/><path d="M66.8,357.9 Q70.3,355.3 73.8,356.7" stroke-width="0.48" stroke-opacity="0.49"/><path d="M63.5,423.7 Q70.1,421.1 76.6,422.5" stroke-width="0.93" stroke-opacity="0.54"/><path d="M29.7,398.9 Q31.8,396.5 34.0,398.1" stroke-width="0.80" stroke-opacity="0.34"/><path d="M92.8,473.5 Q97.9,469.5 103.0,469.4" stroke-width="0.91" stroke-opacity="0.34"/><path d="M141.5,380.4 Q143.9,379.4 146.3,382.4" stroke-width="0.84" stroke-opacity="0.49"/><path d="M9.1,352.8 Q11.7,349.8 14.3,350.7" stroke-width="0.58" stroke-opacity="0.35"/><path d="M8.8,405.6 Q13.3,401.0 17.8,400.4" stroke-width="0.90" stroke-opacity="0.43"/><path d="M161.2,394.7 Q165.2,393.9 169.2,397.2" stroke-width="0.61" stroke-opacity="0.20"/><path d="M187.7,496.4 Q191.1,493.7 194.4,495.0" stroke-width="0.91" stroke-opacity="0.44"/><path d="M10.7,392.7 Q13.2,390.2 15.7,391.7" stroke-width="0.53" stroke-opacity="0.57"/><path d="M168.6,361.8 Q173.9,361.3 179.2,364.8" stroke-width="0.85" stroke-opacity="0.53"/><path d="M63.3,362.5 Q70.0,359.9 76.7,361.3" stroke-width="0.96" stroke-opacity="0.48"/><path d="M166.2,506.8 Q171.3,504.3 176.4,505.8" stroke-width="0.43" stroke-opacity="0.48"/><path d="M96.4,444.8 Q102.6,440.5 108.9,440.3" stroke-width="0.86" stroke-opacity="0.22"/><path d="M158.1,502.1 Q161.4,499.9 164.7,501.6" stroke-width="0.98" stroke-opacity="0.46"/><path d="M122.4,393.7 Q124.7,391.7 127.0,393.7" stroke-width="0.65" stroke-opacity="0.28"/><path d="M69.9,371.6 Q75.4,369.8 80.9,372.0" stroke-width="0.54" stroke-opacity="0.30"/><path d="M116.0,431.8 Q122.6,428.9 129.2,430.1" stroke-width="0.58" stroke-opacity="0.55"/><path d="M31.9,454.8 Q35.5,451.9 39.0,452.9" stroke-width="0.73" stroke-opacity="0.50"/><path d="M38.1,475.0 Q42.5,470.7 46.9,470.4" stroke-width="0.86" stroke-opacity="0.53"/><path d="M25.8,401.4 Q29.2,397.8 32.6,398.1" stroke-width="0.44" stroke-opacity="0.31"/><path d="M44.4,481.8 Q47.7,477.3 51.1,476.7" stroke-width="0.59" stroke-opacity="0.39"/><path d="M81.7,377.8 Q83.9,375.1 86.2,376.5" stroke-width="1.00" stroke-opacity="0.50"/><path d="M18.9,484.8 Q24.9,479.4 30.8,477.9" stroke-width="0.47" stroke-opacity="0.40"/><path d="M97.7,382.0 Q102.3,378.9 106.9,379.9" stroke-width="0.95" stroke-opacity="0.46"/><path d="M141.2,527.4 Q146.2,523.6 151.1,523.7" stroke-width="0.55" stroke-opacity="0.26"/><path d="M6.2,496.0 Q10.8,489.9 15.4,487.7" stroke-width="0.51" stroke-opacity="0.46"/><path d="M190.3,525.7 Q193.1,524.0 195.9,526.3" stroke-width="0.90" stroke-opacity="0.50"/><path d="M73.5,381.0 Q79.6,378.0 85.6,379.0" stroke-width="0.62" stroke-opacity="0.42"/><path d="M83.1,507.1 Q85.7,503.3 88.3,503.4" stroke-width="0.74" stroke-opacity="0.45"/><path d="M184.4,482.6 Q190.7,482.4 197.0,486.1" stroke-width="0.70" stroke-opacity="0.40"/><path d="M35.4,403.4 Q39.8,399.2 44.1,398.9" stroke-width="0.81" stroke-opacity="0.27"/><path d="M99.7,534.1 Q101.7,530.7 103.7,531.2" stroke-width="0.66" stroke-opacity="0.28"/><path d="M162.7,345.5 Q168.0,346.7 173.4,351.8" stroke-width="0.87" stroke-opacity="0.37"/><path d="M63.7,474.0 Q67.9,470.2 72.1,470.4" stroke-width="0.60" stroke-opacity="0.38"/><path d="M149.9,506.1 Q156.1,502.1 162.3,502.2" stroke-width="0.58" stroke-opacity="0.38"/><path d="M126.8,412.9 Q129.7,410.4 132.6,411.9" stroke-width="0.59" stroke-opacity="0.38"/><path d="M218.5,522.2 Q224.6,522.1 230.6,526.0" stroke-width="0.98" stroke-opacity="0.45"/><path d="M182.5,356.7 Q187.4,357.0 192.2,361.4" stroke-width="0.58" stroke-opacity="0.43"/><path d="M214.4,438.7 Q219.5,437.7 224.7,440.6" stroke-width="0.61" stroke-opacity="0.55"/><path d="M6.3,381.8 Q11.3,378.0 16.4,378.2" stroke-width="0.45" stroke-opacity="0.46"/><path d="M83.7,458.2 Q87.7,455.3 91.6,456.4" stroke-width="0.74" stroke-opacity="0.36"/><path d="M25.7,380.2 Q32.0,376.8 38.3,377.4" stroke-width="0.47" stroke-opacity="0.54"/><path d="M57.0,363.5 Q61.6,360.6 66.1,361.6" stroke-width="0.69" stroke-opacity="0.42"/><path d="M51.0,456.7 Q53.4,453.8 55.8,454.9" stroke-width="0.75" stroke-opacity="0.23"/><path d="M91.8,359.3 Q95.9,358.3 100.0,361.3" stroke-width="0.73" stroke-opacity="0.49"/><path d="M170.3,367.3 Q176.6,368.3 182.9,373.2" stroke-width="0.46" stroke-opacity="0.53"/><path d="M88.2,378.4 Q95.0,376.6 101.8,378.7" stroke-width="0.86" stroke-opacity="0.25"/><path d="M174.6,356.2 Q177.7,355.2 180.7,358.1" stroke-width="0.41" stroke-opacity="0.44"/><path d="M48.0,403.5 Q53.3,400.1 58.7,400.6" stroke-width="0.93" stroke-opacity="0.45"/><path d="M196.2,454.8 Q202.4,455.1 208.6,459.4" stroke-width="0.50" stroke-opacity="0.50"/><path d="M76.8,493.9 Q82.1,490.8 87.4,491.7" stroke-width="0.47" stroke-opacity="0.35"/><path d="M165.9,529.9 Q171.1,525.8 176.3,525.8" stroke-width="0.76" stroke-opacity="0.24"/><path d="M123.5,501.6 Q126.1,499.6 128.6,501.5" stroke-width="0.81" stroke-opacity="0.30"/><path d="M43.5,432.1 Q49.4,428.4 55.4,428.7" stroke-width="0.47" stroke-opacity="0.21"/><path d="M24.8,501.1 Q27.3,497.6 29.8,498.1" stroke-width="0.57" stroke-opacity="0.47"/><path d="M85.7,373.1 Q92.1,371.2 98.4,373.3" stroke-width="0.81" stroke-opacity="0.52"/><path d="M213.5,347.7 Q216.9,347.0 220.4,350.3" stroke-width="0.70" stroke-opacity="0.55"/><path d="M180.1,351.9 Q182.6,351.5 185.0,355.0" stroke-width="0.81" stroke-opacity="0.36"/><path d="M107.0,375.9 Q113.3,374.0 119.5,376.0" stroke-width="0.92" stroke-opacity="0.44"/><path d="M17.1,409.2 Q20.1,406.7 23.2,408.3" stroke-width="0.75" stroke-opacity="0.22"/><path d="M38.2,415.4 Q42.4,412.3 46.6,413.2" stroke-width="0.63" stroke-opacity="0.34"/><path d="M1.3,457.9 Q3.9,453.3 6.5,452.8" stroke-width="0.68" stroke-opacity="0.59"/><path d="M10.2,373.4 Q15.2,369.4 20.1,369.3" stroke-width="0.56" stroke-opacity="0.40"/><path d="M59.0,455.9 Q63.6,453.5 68.2,455.0" stroke-width="1.00" stroke-opacity="0.21"/><path d="M126.1,495.3 Q132.5,493.0 138.8,494.6" stroke-width="0.78" stroke-opacity="0.45"/><path d="M81.7,399.9 Q87.6,398.5 93.6,401.0" stroke-width="0.96" stroke-opacity="0.47"/><path d="M68.4,493.8 Q73.7,489.6 78.9,489.4" stroke-width="0.78" stroke-opacity="0.34"/><path d="M123.9,424.2 Q126.2,422.0 128.5,423.8" stroke-width="0.59" stroke-opacity="0.60"/><path d="M108.3,416.6 Q111.5,414.1 114.7,415.5" stroke-width="0.61" stroke-opacity="0.25"/><path d="M1.6,514.8 Q4.8,510.0 8.0,509.2" stroke-width="0.74" stroke-opacity="0.32"/><path d="M38.0,357.9 Q41.4,355.1 44.8,356.3" stroke-width="0.84" stroke-opacity="0.42"/><path d="M210.9,411.4 Q217.0,411.9 223.2,416.4" stroke-width="0.45" stroke-opacity="0.27"/><path d="M130.6,537.6 Q134.3,535.0 138.1,536.4" stroke-width="0.66" stroke-opacity="0.55"/><path d="M15.2,439.5 Q20.8,434.1 26.3,432.6" stroke-width="0.55" stroke-opacity="0.21"/><path d="M37.0,397.3 Q42.1,393.2 47.3,393.1" stroke-width="0.64" stroke-opacity="0.28"/><path d="M135.7,513.5 Q140.6,509.6 145.5,509.8" stroke-width="0.84" stroke-opacity="0.59"/><path d="M135.2,360.5 Q140.8,360.8 146.4,365.2" stroke-width="0.60" stroke-opacity="0.25"/><path d="M42.3,449.7 Q48.4,445.8 54.5,445.9" stroke-width="0.95" stroke-opacity="0.28"/><path d="M73.5,491.1 Q78.3,487.0 83.1,486.8" stroke-width="0.81" stroke-opacity="0.34"/><path d="M12.9,425.8 Q15.0,423.0 17.1,424.3" stroke-width="0.60" stroke-opacity="0.40"/><path d="M134.5,395.1 Q138.8,392.6 143.1,394.0" stroke-width="0.96" stroke-opacity="0.43"/><path d="M222.2,355.9 Q226.2,357.0 230.2,362.1" stroke-width="0.60" stroke-opacity="0.24"/><path d="M35.1,372.8 Q40.5,368.6 45.9,368.4" stroke-width="0.89" stroke-opacity="0.37"/><path d="M121.2,459.8 Q126.0,457.6 130.7,459.4" stroke-width="0.76" stroke-opacity="0.33"/><path d="M166.7,395.3 Q171.9,395.2 177.1,399.2" stroke-width="0.87" stroke-opacity="0.32"/><path d="M173.8,535.6 Q178.0,532.6 182.1,533.5" stroke-width="0.71" stroke-opacity="0.58"/><path d="M29.7,346.8 Q34.0,344.5 38.4,346.3" stroke-width="0.86" stroke-opacity="0.34"/><path d="M222.6,389.5 Q228.3,388.9 233.9,392.3" stroke-width="0.42" stroke-opacity="0.25"/><path d="M13.5,442.9 Q17.4,438.1 21.3,437.3" stroke-width="0.96" stroke-opacity="0.35"/><path d="M33.6,379.6 Q39.3,377.6 45.0,379.6" stroke-width="0.50" stroke-opacity="0.21"/><path d="M175.1,392.3 Q181.7,392.1 188.4,396.0" stroke-width="0.78" stroke-opacity="0.34"/><path d="M180.1,434.7 Q183.5,434.0 186.9,437.3" stroke-width="0.46" stroke-opacity="0.49"/><path d="M14.7,470.9 Q18.5,467.5 22.3,468.1" stroke-width="0.44" stroke-opacity="0.43"/><path d="M92.2,524.2 Q98.6,520.0 104.9,519.8" stroke-width="0.53" stroke-opacity="0.30"/><path d="M59.0,429.6 Q61.9,426.3 64.8,427.1" stroke-width="0.86" stroke-opacity="0.46"/><path d="M67.2,538.9 Q69.9,535.4 72.6,536.0" stroke-width="0.49" stroke-opacity="0.55"/><path d="M195.6,397.1 Q200.7,397.8 205.7,402.6" stroke-width="0.57" stroke-opacity="0.33"/><path d="M109.2,518.7 Q112.0,516.1 114.7,517.5" stroke-width="0.76" stroke-opacity="0.38"/><path d="M130.3,517.2 Q133.4,515.0 136.4,516.9" stroke-width="0.62" stroke-opacity="0.51"/><path d="M194.3,380.5 Q199.4,382.2 204.5,387.9" stroke-width="0.58" stroke-opacity="0.21"/><path d="M25.1,535.0 Q26.9,532.1 28.8,533.2" stroke-width="0.49" stroke-opacity="0.49"/><path d="M21.9,377.9 Q26.8,373.5 31.7,373.2" stroke-width="0.60" stroke-opacity="0.57"/><path d="M161.2,517.0 Q167.6,512.5 174.1,512.1" stroke-width="0.54" stroke-opacity="0.52"/><path d="M155.1,352.4 Q159.6,351.2 164.0,353.9" stroke-width="0.66" stroke-opacity="0.24"/><path d="M4.5,538.2 Q7.5,534.3 10.5,534.4" stroke-width="0.47" stroke-opacity="0.39"/><path d="M30.6,428.6 Q33.4,425.8 36.1,427.0" stroke-width="0.49" stroke-opacity="0.50"/><path d="M112.7,366.9 Q116.4,365.3 120.2,367.7" stroke-width="0.95" stroke-opacity="0.34"/><path d="M48.4,533.7 Q54.1,528.8 59.9,527.9" stroke-width="0.56" stroke-opacity="0.27"/><path d="M59.5,358.4 Q61.8,356.3 64.0,358.2" stroke-width="0.64" stroke-opacity="0.42"/><path d="M81.6,347.1 Q87.0,345.8 92.4,348.5" stroke-width="0.73" stroke-opacity="0.42"/><path d="M155.3,536.6 Q161.7,534.0 168.0,535.4" stroke-width="0.64" stroke-opacity="0.33"/><path d="M94.3,534.7 Q97.8,530.9 101.3,531.1" stroke-width="0.65" stroke-opacity="0.26"/><path d="M224.6,346.0 Q228.2,347.6 231.7,353.2" stroke-width="0.55" stroke-opacity="0.44"/><path d="M84.8,391.9 Q87.7,389.2 90.6,390.5" stroke-width="0.91" stroke-opacity="0.51"/><path d="M204.4,354.7 Q209.5,354.7 214.5,358.8" stroke-width="0.79" stroke-opacity="0.42"/><path d="M71.0,534.5 Q72.9,531.7 74.7,533.0" stroke-width="0.91" stroke-opacity="0.40"/><path d="M133.3,539.0 Q136.4,536.3 139.4,537.6" stroke-width="0.85" stroke-opacity="0.35"/><path d="M160.2,421.7 Q164.8,420.6 169.3,423.5" stroke-width="0.81" stroke-opacity="0.33"/><path d="M141.5,450.9 Q144.6,449.0 147.7,451.2" stroke-width="0.56" stroke-opacity="0.56"/><path d="M106.5,485.7 Q111.0,482.6 115.4,483.4" stroke-width="0.53" stroke-opacity="0.26"/><path d="M208.6,448.1 Q213.1,447.2 217.6,450.4" stroke-width="0.89" stroke-opacity="0.30"/><path d="M38.8,505.3 Q42.6,501.3 46.4,501.4" stroke-width="0.90" stroke-opacity="0.56"/><path d="M195.3,353.4 Q198.4,353.7 201.6,358.0" stroke-width="0.89" stroke-opacity="0.25"/><path d="M34.6,394.0 Q37.0,391.3 39.4,392.5" stroke-width="0.88" stroke-opacity="0.41"/><path d="M101.9,362.2 Q105.6,361.5 109.4,364.8" stroke-width="0.82" stroke-opacity="0.38"/><path d="M107.6,500.7 Q112.8,496.1 118.0,495.6" stroke-width="0.81" stroke-opacity="0.35"/><path d="M117.2,391.3 Q121.0,389.3 124.9,391.2" stroke-width="0.63" stroke-opacity="0.21"/><path d="M45.2,456.3 Q47.2,453.1 49.1,453.9" stroke-width="0.83" stroke-opacity="0.31"/><path d="M72.9,392.2 Q78.8,388.3 84.7,388.4" stroke-width="0.78" stroke-opacity="0.54"/><path d="M45.4,427.5 Q51.2,424.1 57.0,424.7" stroke-width="0.62" stroke-opacity="0.22"/><path d="M99.6,416.6 Q105.0,413.6 110.5,414.7" stroke-width="0.64" stroke-opacity="0.46"/><path d="M182.4,413.7 Q186.2,412.8 190.0,415.8" stroke-width="0.95" stroke-opacity="0.28"/><path d="M218.6,483.8 Q222.3,482.8 226.0,485.8" stroke-width="0.60" stroke-opacity="0.23"/><path d="M170.1,419.0 Q174.7,417.8 179.2,420.6" stroke-width="0.94" stroke-opacity="0.50"/><path d="M5.8,460.6 Q9.4,456.3 13.1,456.0" stroke-width="0.90" stroke-opacity="0.37"/><path d="M106.6,518.6 Q110.5,515.2 114.5,515.9" stroke-width="0.71" stroke-opacity="0.53"/><path d="M150.8,489.4 Q154.6,486.1 158.4,486.9" stroke-width="0.81" stroke-opacity="0.42"/><path d="M173.1,495.1 Q175.6,492.7 178.2,494.3" stroke-width="0.45" stroke-opacity="0.53"/><path d="M22.9,362.2 Q28.6,359.2 34.3,360.3" stroke-width="0.43" stroke-opacity="0.47"/><path d="M160.0,439.1 Q162.2,437.6 164.5,440.0" stroke-width="0.65" stroke-opacity="0.43"/><path d="M224.6,504.3 Q230.9,502.0 237.3,503.8" stroke-width="0.60" stroke-opacity="0.41"/><path d="M1.4,537.8 Q3.5,533.2 5.6,532.6" stroke-width="0.59" stroke-opacity="0.30"/><path d="M193.2,453.4 Q197.8,451.9 202.3,454.5" stroke-width="0.43" stroke-opacity="0.32"/><path d="M195.0,501.4 Q201.3,498.9 207.5,500.3" stroke-width="0.52" stroke-opacity="0.22"/><path d="M120.8,417.9 Q125.1,415.9 129.4,417.9" stroke-width="0.75" stroke-opacity="0.35"/><path d="M180.3,384.1 Q186.5,384.2 192.8,388.4" stroke-width="0.43" stroke-opacity="0.33"/><path d="M119.9,424.7 Q124.7,422.2 129.5,423.7" stroke-width="0.56" stroke-opacity="0.52"/><path d="M65.6,483.6 Q71.3,479.6 76.9,479.6" stroke-width="0.67" stroke-opacity="0.57"/><path d="M100.1,516.2 Q102.2,513.4 104.3,514.5" stroke-width="0.78" stroke-opacity="0.22"/><path d="M194.1,359.0 Q198.9,358.4 203.7,361.7" stroke-width="0.95" stroke-opacity="0.42"/><path d="M180.2,442.2 Q185.4,441.4 190.6,444.7" stroke-width="0.58" stroke-opacity="0.28"/><path d="M188.6,373.4 Q195.0,372.9 201.5,376.4" stroke-width="0.46" stroke-opacity="0.24"/><path d="M176.5,530.4 Q180.5,528.3 184.6,530.2" stroke-width="0.55" stroke-opacity="0.56"/><path d="M154.3,375.2 Q156.5,374.0 158.6,376.7" stroke-width="0.43" stroke-opacity="0.53"/><path d="M66.1,390.4 Q70.9,387.3 75.7,388.3" stroke-width="0.74" stroke-opacity="0.26"/><path d="M205.2,408.3 Q211.3,407.2 217.4,410.2" stroke-width="0.88" stroke-opacity="0.59"/><path d="M88.1,351.4 Q92.0,350.0 95.8,352.5" stroke-width="0.53" stroke-opacity="0.42"/><path d="M21.1,435.6 Q26.1,431.1 31.2,430.7" stroke-width="0.81" stroke-opacity="0.25"/><path d="M186.4,368.8 Q191.8,370.7 197.2,376.5" stroke-width="0.96" stroke-opacity="0.41"/><path d="M65.4,412.8 Q71.1,409.8 76.7,410.7" stroke-width="0.96" stroke-opacity="0.24"/><path d="M109.1,513.5 Q113.9,510.1 118.6,510.7" stroke-width="0.45" stroke-opacity="0.26"/><path d="M61.0,519.1 Q66.0,513.5 71.0,511.8" stroke-width="0.95" stroke-opacity="0.21"/><path d="M134.7,533.6 Q138.4,531.5 142.2,533.3" stroke-width="0.79" stroke-opacity="0.22"/><path d="M75.0,432.7 Q78.2,430.4 81.4,432.1" stroke-width="0.51" stroke-opacity="0.52"/><path d="M67.1,358.5 Q71.8,355.4 76.4,356.3" stroke-width="0.73" stroke-opacity="0.52"/><path d="M134.0,435.0 Q136.2,433.0 138.3,435.0" stroke-width="0.46" stroke-opacity="0.46"/><path d="M29.7,457.7 Q33.0,453.9 36.3,454.1" stroke-width="0.80" stroke-opacity="0.27"/><path d="M38.2,528.6 Q41.5,525.1 44.8,525.5" stroke-width="0.92" stroke-opacity="0.39"/><path d="M33.5,363.3 Q39.5,359.1 45.5,358.9" stroke-width="0.70" stroke-opacity="0.41"/><path d="M26.5,436.2 Q29.1,433.2 31.7,434.2" stroke-width="0.70" stroke-opacity="0.35"/><path d="M44.5,423.7 Q47.2,420.3 49.8,420.9" stroke-width="0.54" stroke-opacity="0.55"/><path d="M112.9,518.7 Q115.0,516.5 117.0,518.3" stroke-width="0.69" stroke-opacity="0.52"/><path d="M128.3,479.3 Q131.5,477.3 134.6,479.2" stroke-width="0.49" stroke-opacity="0.31"/><path d="M7.0,421.7 Q10.9,417.4 14.9,417.1" stroke-width="0.93" stroke-opacity="0.23"/><path d="M130.2,390.6 Q135.0,389.9 139.8,393.1" stroke-width="0.83" stroke-opacity="0.22"/><path d="M55.3,461.8 Q61.0,456.0 66.8,454.2" stroke-width="0.77" stroke-opacity="0.48"/><path d="M183.3,411.7 Q189.2,411.1 195.1,414.4" stroke-width="0.95" stroke-opacity="0.20"/><path d="M211.6,425.3 Q215.6,423.8 219.6,426.2" stroke-width="0.55" stroke-opacity="0.49"/><path d="M152.7,374.5 Q156.4,372.7 160.2,374.9" stroke-width="0.52" stroke-opacity="0.29"/><path d="M74.5,535.3 Q81.1,530.9 87.6,530.5" stroke-width="0.69" stroke-opacity="0.40"/><path d="M175.3,522.1 Q181.1,520.0 186.8,521.8" stroke-width="0.52" stroke-opacity="0.45"/><path d="M190.3,498.4 Q192.7,496.7 195.2,499.1" stroke-width="0.61" stroke-opacity="0.26"/><path d="M217.3,476.2 Q223.0,474.2 228.7,476.3" stroke-width="0.90" stroke-opacity="0.57"/><path d="M203.6,490.3 Q209.5,489.8 215.5,493.3" stroke-width="0.75" stroke-opacity="0.37"/><path d="M185.7,498.0 Q192.0,495.4 198.3,496.9" stroke-width="0.98" stroke-opacity="0.41"/><path d="M212.8,367.6 Q218.4,369.6 224.0,375.5" stroke-width="0.55" stroke-opacity="0.54"/><path d="M52.2,383.6 Q56.3,380.4 60.5,381.2" stroke-width="0.70" stroke-opacity="0.56"/><path d="M154.2,483.5 Q158.1,481.9 162.1,484.2" stroke-width="0.88" stroke-opacity="0.47"/><path d="M211.9,506.0 Q215.9,503.5 219.9,505.1" stroke-width="0.79" stroke-opacity="0.53"/><path d="M76.4,461.0 Q82.5,458.2 88.7,459.3" stroke-width="0.40" stroke-opacity="0.40"/><path d="M3.7,366.6 Q9.4,362.6 15.2,362.7" stroke-width="0.76" stroke-opacity="0.38"/><path d="M75.5,386.7 Q79.2,385.0 83.0,387.4" stroke-width="0.77" stroke-opacity="0.32"/><path d="M19.8,397.8 Q25.0,394.0 30.2,394.2" stroke-width="0.80" stroke-opacity="0.52"/><path d="M27.2,478.2 Q29.2,475.4 31.3,476.7" stroke-width="0.51" stroke-opacity="0.31"/><path d="M215.5,415.7 Q218.2,415.3 220.8,418.9" stroke-width="0.77" stroke-opacity="0.56"/><path d="M88.7,442.4 Q95.4,439.2 102.1,440.0" stroke-width="0.99" stroke-opacity="0.28"/><path d="M186.9,376.6 Q191.5,375.1 196.1,377.6" stroke-width="0.51" stroke-opacity="0.58"/><path d="M102.3,502.8 Q105.3,499.6 108.3,500.4" stroke-width="0.46" stroke-opacity="0.42"/><path d="M194.0,445.2 Q197.6,444.7 201.1,448.3" stroke-width="0.94" stroke-opacity="0.47"/><path d="M17.1,466.7 Q21.1,463.5 25.2,464.3" stroke-width="0.62" stroke-opacity="0.46"/><path d="M142.2,418.3 Q146.7,417.1 151.3,419.8" stroke-width="0.94" stroke-opacity="0.40"/><path d="M81.8,535.4 Q84.0,532.7 86.2,534.0" stroke-width="0.81" stroke-opacity="0.42"/><path d="M100.7,491.5 Q107.1,488.4 113.5,489.4" stroke-width="0.85" stroke-opacity="0.21"/><path d="M73.2,371.7 Q79.9,370.7 86.5,373.8" stroke-width="0.49" stroke-opacity="0.44"/><path d="M129.8,354.1 Q133.5,353.4 137.3,356.7" stroke-width="0.78" stroke-opacity="0.31"/><path d="M171.6,401.8 Q176.2,400.7 180.8,403.6" stroke-width="0.99" stroke-opacity="0.46"/><path d="M181.1,476.9 Q184.8,476.0 188.6,479.1" stroke-width="0.83" stroke-opacity="0.48"/><path d="M62.4,376.6 Q67.3,374.9 72.2,377.2" stroke-width="0.88" stroke-opacity="0.34"/><path d="M31.5,445.6 Q36.9,440.2 42.2,438.7" stroke-width="0.84" stroke-opacity="0.27"/><path d="M70.2,355.4 Q73.7,353.2 77.2,355.0" stroke-width="0.98" stroke-opacity="0.58"/><path d="M42.1,405.3 Q48.3,400.7 54.5,400.1" stroke-width="0.59" stroke-opacity="0.38"/><path d="M24.4,395.7 Q28.1,392.4 31.9,393.1" stroke-width="0.98" stroke-opacity="0.31"/><path d="M45.9,522.2 Q49.8,518.6 53.7,519.0" stroke-width="0.78" stroke-opacity="0.51"/><path d="M70.8,374.7 Q76.6,372.2 82.4,373.8" stroke-width="0.74" stroke-opacity="0.47"/><path d="M169.3,398.7 Q172.8,398.3 176.2,401.9" stroke-width="0.72" stroke-opacity="0.32"/><path d="M141.8,395.6 Q147.6,393.1 153.5,394.6" stroke-width="0.90" stroke-opacity="0.43"/><path d="M79.6,528.3 Q82.3,524.4 85.1,524.6" stroke-width="0.44" stroke-opacity="0.42"/><path d="M169.6,477.2 Q173.6,475.9 177.6,478.6" stroke-width="0.47" stroke-opacity="0.32"/><path d="M145.1,533.6 Q150.2,530.9 155.3,532.2" stroke-width="0.86" stroke-opacity="0.36"/><path d="M211.6,489.8 Q215.3,488.1 219.0,490.4" stroke-width="0.88" stroke-opacity="0.34"/><path d="M41.8,515.0 Q45.8,510.5 49.8,510.1" stroke-width="0.80" stroke-opacity="0.56"/><path d="M30.1,411.1 Q32.2,408.2 34.4,409.4" stroke-width="0.70" stroke-opacity="0.54"/><path d="M150.3,457.7 Q154.3,455.8 158.3,457.9" stroke-width="0.56" stroke-opacity="0.54"/><path d="M177.4,508.5 Q180.2,506.6 182.9,508.7" stroke-width="0.85" stroke-opacity="0.40"/><path d="M202.1,520.3 Q207.8,519.3 213.4,522.2" stroke-width="0.79" stroke-opacity="0.55"/><path d="M29.5,482.3 Q34.5,477.9 39.5,477.5" stroke-width="0.57" stroke-opacity="0.23"/><path d="M135.8,505.7 Q138.9,502.6 142.1,503.5" stroke-width="0.53" stroke-opacity="0.24"/><path d="M152.1,535.1 Q157.9,531.4 163.7,531.8" stroke-width="0.82" stroke-opacity="0.23"/><path d="M188.7,408.4 Q190.6,407.1 192.5,409.7" stroke-width="0.48" stroke-opacity="0.31"/><path d="M13.3,431.9 Q17.9,428.6 22.5,429.3" stroke-width="0.42" stroke-opacity="0.53"/><path d="M24.9,388.8 Q29.7,385.0 34.6,385.3" stroke-width="0.60" stroke-opacity="0.43"/><path d="M49.0,499.7 Q51.9,496.8 54.8,497.8" stroke-width="0.89" stroke-opacity="0.41"/><path d="M6.9,496.7 Q8.6,493.5 10.3,494.2" stroke-width="0.65" stroke-opacity="0.23"/><path d="M141.8,486.3 Q146.6,483.5 151.5,484.7" stroke-width="0.71" stroke-opacity="0.44"/><path d="M50.9,514.2 Q57.4,509.7 63.9,509.2" stroke-width="0.98" stroke-opacity="0.33"/><path d="M221.9,358.9 Q226.0,358.4 230.2,361.9" stroke-width="0.67" stroke-opacity="0.47"/><path d="M159.4,433.7 Q163.1,431.4 166.8,433.2" stroke-width="0.64" stroke-opacity="0.31"/><path d="M43.7,488.5 Q47.7,484.3 51.7,484.1" stroke-width="0.52" stroke-opacity="0.48"/><path d="M44.3,396.8 Q49.0,394.2 53.8,395.7" stroke-width="0.98" stroke-opacity="0.50"/><path d="M213.4,524.4 Q218.9,523.2 224.5,526.1" stroke-width="0.44" stroke-opacity="0.28"/><path d="M2.9,513.4 Q7.5,508.1 12.0,506.8" stroke-width="0.56" stroke-opacity="0.34"/><path d="M36.8,468.3 Q42.8,462.7 48.7,461.1" stroke-width="0.43" stroke-opacity="0.27"/><path d="M79.9,520.3 Q85.3,515.7 90.8,515.0" stroke-width="0.46" stroke-opacity="0.24"/><path d="M34.6,496.6 Q38.8,493.4 43.0,494.1" stroke-width="0.95" stroke-opacity="0.52"/><path d="M107.2,505.3 Q109.5,502.0 111.8,502.8" stroke-width="0.74" stroke-opacity="0.40"/><path d="M47.1,394.1 Q49.2,392.1 51.3,394.1" stroke-width="0.83" stroke-opacity="0.58"/><path d="M220.6,430.2 Q226.1,429.7 231.5,433.2" stroke-width="0.89" stroke-opacity="0.54"/><path d="M30.1,347.5 Q33.2,345.2 36.2,347.0" stroke-width="0.63" stroke-opacity="0.20"/><path d="M186.8,498.3 Q191.0,495.4 195.3,496.5" stroke-width="0.93" stroke-opacity="0.41"/><path d="M16.0,408.1 Q21.0,405.2 26.1,406.4" stroke-width="0.69" stroke-opacity="0.46"/><path d="M46.3,392.5 Q52.6,388.8 58.9,389.1" stroke-width="0.46" stroke-opacity="0.44"/><path d="M28.4,384.0 Q32.6,381.1 36.8,382.3" stroke-width="0.78" stroke-opacity="0.48"/><path d="M98.9,358.2 Q104.5,355.4 110.1,356.6" stroke-width="0.68" stroke-opacity="0.36"/><path d="M151.4,484.2 Q154.6,482.2 157.8,484.2" stroke-width="0.82" stroke-opacity="0.39"/><path d="M31.9,522.3 Q35.3,516.6 38.6,514.9" stroke-width="0.54" stroke-opacity="0.59"/><path d="M51.5,421.5 Q57.4,418.9 63.3,420.3" stroke-width="0.78" stroke-opacity="0.50"/><path d="M8.6,363.3 Q15.5,360.6 22.3,361.9" stroke-width="0.42" stroke-opacity="0.22"/><path d="M54.1,526.5 Q56.9,523.1 59.7,523.7" stroke-width="0.96" stroke-opacity="0.46"/><path d="M206.8,396.3 Q209.6,394.6 212.3,397.0" stroke-width="0.85" stroke-opacity="0.24"/><path d="M219.0,483.4 Q221.7,482.4 224.5,485.3" stroke-width="0.50" stroke-opacity="0.40"/><path d="M23.8,498.5 Q29.8,494.1 35.8,493.8" stroke-width="0.40" stroke-opacity="0.54"/><path d="M125.1,505.2 Q129.5,502.4 134.0,503.7" stroke-width="0.76" stroke-opacity="0.52"/><path d="M17.5,355.6 Q22.0,352.1 26.5,352.7" stroke-width="0.64" stroke-opacity="0.20"/><path d="M167.6,349.7 Q173.0,350.7 178.3,355.8" stroke-width="0.67" stroke-opacity="0.25"/><path d="M146.3,385.4 Q150.4,383.3 154.6,385.3" stroke-width="0.99" stroke-opacity="0.42"/><path d="M79.3,363.3 Q84.9,362.3 90.4,365.3" stroke-width="0.91" stroke-opacity="0.24"/><path d="M82.7,404.0 Q88.3,400.5 93.9,400.9" stroke-width="0.76" stroke-opacity="0.59"/><path d="M173.0,346.4 Q175.3,344.8 177.6,347.3" stroke-width="0.82" stroke-opacity="0.44"/><path d="M117.0,433.8 Q121.1,431.8 125.1,433.8" stroke-width="0.79" stroke-opacity="0.57"/><path d="M164.9,500.3 Q171.4,499.0 177.9,501.6" stroke-width="0.83" stroke-opacity="0.21"/><path d="M153.2,510.7 Q157.3,509.0 161.5,511.2" stroke-width="0.51" stroke-opacity="0.58"/><path d="M99.4,482.8 Q102.4,479.6 105.5,480.5" stroke-width="0.61" stroke-opacity="0.33"/><path d="M21.3,431.4 Q27.9,427.2 34.4,427.0" stroke-width="0.96" stroke-opacity="0.50"/><path d="M188.3,538.9 Q193.9,535.7 199.6,536.6" stroke-width="0.55" stroke-opacity="0.36"/><path d="M4.7,390.0 Q11.1,387.1 17.5,388.3" stroke-width="0.60" stroke-opacity="0.51"/><path d="M174.4,518.5 Q180.3,516.1 186.3,517.7" stroke-width="0.46" stroke-opacity="0.53"/><path d="M70.6,467.3 Q74.2,464.1 77.9,465.0" stroke-width="0.98" stroke-opacity="0.26"/><path d="M119.5,471.7 Q124.1,470.0 128.8,472.3" stroke-width="0.64" stroke-opacity="0.57"/><path d="M155.2,533.6 Q157.5,530.8 159.8,532.0" stroke-width="0.57" stroke-opacity="0.56"/><path d="M3.1,395.7 Q8.6,393.1 14.1,394.4" stroke-width="0.51" stroke-opacity="0.38"/><path d="M154.5,479.7 Q160.3,478.1 166.0,480.6" stroke-width="0.55" stroke-opacity="0.30"/><path d="M6.2,479.8 Q8.5,475.8 10.9,475.8" stroke-width="0.98" stroke-opacity="0.46"/><path d="M133.0,472.9 Q138.0,470.9 143.0,472.8" stroke-width="0.58" stroke-opacity="0.23"/><path d="M15.1,347.8 Q18.6,344.5 22.2,345.1" stroke-width="0.47" stroke-opacity="0.40"/><path d="M218.1,479.1 Q221.3,478.1 224.5,481.2" stroke-width="0.51" stroke-opacity="0.24"/><path d="M68.2,424.7 Q73.5,421.5 78.8,422.2" stroke-width="0.84" stroke-opacity="0.24"/><path d="M209.8,411.8 Q215.9,410.4 222.0,413.1" stroke-width="0.90" stroke-opacity="0.29"/><path d="M192.4,501.6 Q197.7,499.1 203.0,500.7" stroke-width="0.41" stroke-opacity="0.28"/><path d="M203.6,375.8 Q208.3,376.2 213.1,380.5" stroke-width="0.80" stroke-opacity="0.27"/><path d="M32.3,363.9 Q39.1,360.4 45.8,360.8" stroke-width="0.79" stroke-opacity="0.43"/><path d="M50.2,357.6 Q52.3,355.8 54.4,358.0" stroke-width="0.48" stroke-opacity="0.59"/><path d="M81.8,485.9 Q84.5,483.4 87.1,484.9" stroke-width="0.55" stroke-opacity="0.35"/><path d="M117.7,366.7 Q120.8,365.6 123.9,368.5" stroke-width="0.57" stroke-opacity="0.35"/><path d="M172.1,388.7 Q175.0,387.1 178.0,389.4" stroke-width="0.63" stroke-opacity="0.35"/><path d="M144.3,437.0 Q150.6,433.8 156.8,434.6" stroke-width="0.80" stroke-opacity="0.53"/><path d="M52.8,350.7 Q56.9,347.7 61.0,348.6" stroke-width="0.68" stroke-opacity="0.48"/><path d="M21.1,368.0 Q25.2,364.3 29.2,364.7" stroke-width="0.54" stroke-opacity="0.38"/><path d="M26.6,358.2 Q30.4,355.5 34.1,356.8" stroke-width="0.96" stroke-opacity="0.42"/><path d="M16.1,388.4 Q21.6,384.9 27.1,385.4" stroke-width="0.92" stroke-opacity="0.58"/><path d="M193.0,366.5 Q199.2,367.2 205.3,371.9" stroke-width="0.54" stroke-opacity="0.27"/><path d="M194.5,386.4 Q196.9,385.0 199.2,387.6" stroke-width="0.95" stroke-opacity="0.38"/><path d="M164.5,359.5 Q168.7,358.5 172.9,361.5" stroke-width="0.52" stroke-opacity="0.47"/><path d="M81.3,368.3 Q88.2,366.2 95.1,368.1" stroke-width="0.51" stroke-opacity="0.20"/><path d="M146.9,445.4 Q149.0,443.4 151.2,445.4" stroke-width="0.84" stroke-opacity="0.41"/><path d="M52.7,442.3 Q57.6,439.1 62.4,439.9" stroke-width="0.49" stroke-opacity="0.52"/><path d="M212.8,489.4 Q219.0,487.8 225.3,490.3" stroke-width="0.94" stroke-opacity="0.27"/><path d="M51.1,461.6 Q56.5,456.0 61.9,454.4" stroke-width="0.53" stroke-opacity="0.21"/><path d="M98.8,372.4 Q101.7,370.9 104.6,373.4" stroke-width="0.75" stroke-opacity="0.58"/><path d="M90.4,477.4 Q92.5,475.3 94.6,477.2" stroke-width="0.54" stroke-opacity="0.39"/><path d="M115.1,529.9 Q119.6,527.5 124.0,529.2" stroke-width="0.77" stroke-opacity="0.29"/><path d="M187.6,384.4 Q194.3,384.5 200.9,388.7" stroke-width="0.54" stroke-opacity="0.58"/><path d="M72.4,424.4 Q76.1,422.0 79.8,423.6" stroke-width="0.41" stroke-opacity="0.35"/><path d="M36.5,506.5 Q38.2,503.5 40.0,504.6" stroke-width="0.55" stroke-opacity="0.38"/></g>
<polygon points="60.6,451.3 119.6,399.9 144.6,423.5 136.3,429.7 119.6,415.8 80.0,450.6" fill="#ffffff" />
<polygon points="94.6,442.9 102.2,435.3 119.6,449.9 163.3,414.4 177.2,414.4 119.6,464.4" fill="#ffffff" />
<rect x="112.6" y="424.9" width="4.8" height="4.8" fill="#ffffff"/>
<rect x="120.3" y="424.9" width="4.8" height="4.8" fill="#ffffff"/>
<rect x="112.6" y="431.8" width="4.8" height="4.8" fill="#ffffff"/>
<rect x="120.3" y="431.8" width="4.8" height="4.8" fill="#ffffff"/>
<text x="39.4" y="479.6" font-size="10.6" font-weight="bold" textLength="158.4" lengthAdjust="spacingAndGlyphs" fill="#ffffff">Windows and Doors Repair LLC</text>
</svg></body></html>
